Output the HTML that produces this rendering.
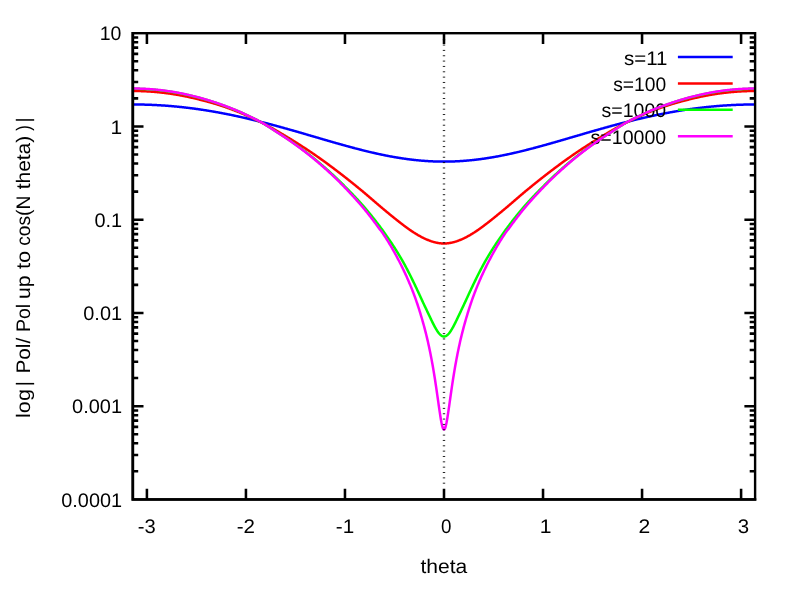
<!DOCTYPE html>
<html><head><meta charset="utf-8"><title>plot</title>
<style>html,body{margin:0;padding:0;background:#fff;}body{width:789px;height:591px;overflow:hidden;font-family:"Liberation Sans",sans-serif;}svg{will-change:transform;}svg text{text-rendering:geometricPrecision;}</style></head>
<body>
<svg width="789" height="591" viewBox="0 0 789 591" style="display:block">
<rect width="789" height="591" fill="#fff"/>
<path d="M146.91,499.4 V488.70 M146.91,33.2 V43.90 M245.94,499.4 V488.70 M245.94,33.2 V43.90 M344.97,499.4 V488.70 M344.97,33.2 V43.90 M444.00,499.4 V488.70 M444.00,33.2 V43.90 M543.03,499.4 V488.70 M543.03,33.2 V43.90 M642.06,499.4 V488.70 M642.06,33.2 V43.90 M741.09,499.4 V488.70 M741.09,33.2 V43.90 M132.8,471.33 H138.20 M755.1,471.33 H749.70 M132.8,454.91 H138.20 M755.1,454.91 H749.70 M132.8,443.26 H138.20 M755.1,443.26 H749.70 M132.8,434.23 H138.20 M755.1,434.23 H749.70 M132.8,426.85 H138.20 M755.1,426.85 H749.70 M132.8,420.60 H138.20 M755.1,420.60 H749.70 M132.8,415.20 H138.20 M755.1,415.20 H749.70 M132.8,410.43 H138.20 M755.1,410.43 H749.70 M132.8,406.16 H143.50 M755.1,406.16 H744.40 M132.8,378.09 H138.20 M755.1,378.09 H749.70 M132.8,361.67 H138.20 M755.1,361.67 H749.70 M132.8,350.02 H138.20 M755.1,350.02 H749.70 M132.8,340.99 H138.20 M755.1,340.99 H749.70 M132.8,333.61 H138.20 M755.1,333.61 H749.70 M132.8,327.36 H138.20 M755.1,327.36 H749.70 M132.8,321.96 H138.20 M755.1,321.96 H749.70 M132.8,317.19 H138.20 M755.1,317.19 H749.70 M132.8,312.92 H143.50 M755.1,312.92 H744.40 M132.8,284.85 H138.20 M755.1,284.85 H749.70 M132.8,268.43 H138.20 M755.1,268.43 H749.70 M132.8,256.78 H138.20 M755.1,256.78 H749.70 M132.8,247.75 H138.20 M755.1,247.75 H749.70 M132.8,240.37 H138.20 M755.1,240.37 H749.70 M132.8,234.12 H138.20 M755.1,234.12 H749.70 M132.8,228.72 H138.20 M755.1,228.72 H749.70 M132.8,223.95 H138.20 M755.1,223.95 H749.70 M132.8,219.68 H143.50 M755.1,219.68 H744.40 M132.8,191.61 H138.20 M755.1,191.61 H749.70 M132.8,175.19 H138.20 M755.1,175.19 H749.70 M132.8,163.54 H138.20 M755.1,163.54 H749.70 M132.8,154.51 H138.20 M755.1,154.51 H749.70 M132.8,147.13 H138.20 M755.1,147.13 H749.70 M132.8,140.88 H138.20 M755.1,140.88 H749.70 M132.8,135.48 H138.20 M755.1,135.48 H749.70 M132.8,130.71 H138.20 M755.1,130.71 H749.70 M132.8,126.44 H143.50 M755.1,126.44 H744.40 M132.8,98.37 H138.20 M755.1,98.37 H749.70 M132.8,81.95 H138.20 M755.1,81.95 H749.70 M132.8,70.30 H138.20 M755.1,70.30 H749.70 M132.8,61.27 H138.20 M755.1,61.27 H749.70 M132.8,53.89 H138.20 M755.1,53.89 H749.70 M132.8,47.64 H138.20 M755.1,47.64 H749.70 M132.8,42.24 H138.20 M755.1,42.24 H749.70 M132.8,37.47 H138.20 M755.1,37.47 H749.70" stroke="#000" stroke-width="2.55" fill="none"/>
<text transform="translate(61.28,506.50) scale(1.0147,1.0)" font-family="Liberation Sans, sans-serif" font-size="19.6" fill="#000">0.0001</text>
<text transform="translate(72.08,413.26) scale(1.0201,1.0)" font-family="Liberation Sans, sans-serif" font-size="19.6" fill="#000">0.001</text>
<text transform="translate(83.28,320.02) scale(1.0180,1.0)" font-family="Liberation Sans, sans-serif" font-size="19.6" fill="#000">0.01</text>
<text transform="translate(94.43,226.78) scale(1.0159,1.0)" font-family="Liberation Sans, sans-serif" font-size="19.6" fill="#000">0.1</text>
<text transform="translate(110.49,133.54) scale(1.0697,1.0)" font-family="Liberation Sans, sans-serif" font-size="19.6" fill="#000">1</text>
<text transform="translate(99.68,40.30) scale(0.9956,1.0)" font-family="Liberation Sans, sans-serif" font-size="19.6" fill="#000">10</text>
<text transform="translate(137.77,532.65) scale(1.0299,1.0)" font-family="Liberation Sans, sans-serif" font-size="19.6" fill="#000">-3</text>
<text transform="translate(236.76,532.65) scale(1.0486,1.0)" font-family="Liberation Sans, sans-serif" font-size="19.6" fill="#000">-2</text>
<text transform="translate(335.75,532.65) scale(1.0549,1.0)" font-family="Liberation Sans, sans-serif" font-size="19.6" fill="#000">-1</text>
<text transform="translate(441.01,532.65) scale(0.9592,1.0)" font-family="Liberation Sans, sans-serif" font-size="19.6" fill="#000">0</text>
<text transform="translate(539.68,532.65) scale(1.0753,1.0)" font-family="Liberation Sans, sans-serif" font-size="19.6" fill="#000">1</text>
<text transform="translate(638.51,532.65) scale(1.0776,1.0)" font-family="Liberation Sans, sans-serif" font-size="19.6" fill="#000">2</text>
<text transform="translate(737.86,532.65) scale(1.0428,1.0)" font-family="Liberation Sans, sans-serif" font-size="19.6" fill="#000">3</text>
<text transform="translate(420.50,572.80) scale(1.0728,1.0)" font-family="Liberation Sans, sans-serif" font-size="19.6" fill="#000">theta</text>
<text transform="translate(29.70,417.95) rotate(-90) scale(1.1036,1.0)" font-family="Liberation Sans, sans-serif" font-size="19.6" fill="#000">log</text>
<text transform="translate(29.70,386.25) rotate(-90) scale(1.0000,1.0)" font-family="Liberation Sans, sans-serif" font-size="19.6" fill="#000">|</text>
<text transform="translate(29.70,373.52) rotate(-90) scale(1.0585,1.0)" font-family="Liberation Sans, sans-serif" font-size="19.6" fill="#000">Pol/</text>
<text transform="translate(29.70,332.12) rotate(-90) scale(0.9959,1.0)" font-family="Liberation Sans, sans-serif" font-size="19.6" fill="#000">Pol</text>
<text transform="translate(29.70,298.93) rotate(-90) scale(1.0818,1.0)" font-family="Liberation Sans, sans-serif" font-size="19.6" fill="#000">up</text>
<text transform="translate(29.70,269.10) rotate(-90) scale(1.1124,1.0)" font-family="Liberation Sans, sans-serif" font-size="19.6" fill="#000">to</text>
<text transform="translate(29.70,245.80) rotate(-90) scale(0.9802,1.0)" font-family="Liberation Sans, sans-serif" font-size="19.6" fill="#000">cos(N</text>
<text transform="translate(29.70,189.30) rotate(-90) scale(1.0671,1.0)" font-family="Liberation Sans, sans-serif" font-size="19.6" fill="#000">theta)</text>
<text transform="translate(29.70,130.80) rotate(-90) scale(0.8345,1.0)" font-family="Liberation Sans, sans-serif" font-size="19.6" fill="#000">)</text>
<text transform="translate(29.70,122.40) rotate(-90) scale(1.0000,1.0)" font-family="Liberation Sans, sans-serif" font-size="19.6" fill="#000">|</text>
<text transform="translate(624.03,64.50) scale(1.0459,1.0)" font-family="Liberation Sans, sans-serif" font-size="19.6" fill="#000">s=11</text>
<path d="M677.9,57.05 H732.7" stroke="#0000ff" stroke-width="2.5" fill="none"/>
<path d="M132.89,104.47 L133.41,104.47 L133.93,104.47 L134.44,104.47 L134.96,104.47 L135.48,104.48 L136.00,104.48 L136.52,104.48 L137.04,104.49 L137.55,104.49 L138.07,104.50 L138.59,104.51 L139.11,104.51 L139.63,104.52 L140.15,104.53 L140.67,104.54 L141.18,104.55 L141.70,104.56 L142.22,104.57 L142.74,104.58 L143.26,104.59 L143.78,104.60 L144.30,104.61 L144.81,104.63 L145.33,104.64 L145.85,104.66 L146.37,104.67 L146.89,104.69 L147.41,104.70 L147.93,104.72 L148.44,104.74 L148.96,104.76 L149.48,104.78 L150.00,104.80 L150.52,104.82 L151.04,104.84 L151.55,104.86 L152.07,104.88 L152.59,104.90 L153.11,104.93 L153.63,104.95 L154.15,104.97 L154.67,105.00 L155.18,105.02 L155.70,105.05 L156.22,105.08 L156.74,105.10 L157.26,105.13 L157.78,105.16 L158.30,105.19 L158.81,105.22 L159.33,105.25 L159.85,105.28 L160.37,105.31 L160.89,105.34 L161.41,105.38 L161.93,105.41 L162.44,105.44 L162.96,105.48 L163.48,105.51 L164.00,105.55 L164.52,105.59 L165.04,105.62 L165.55,105.66 L166.07,105.70 L166.59,105.74 L167.11,105.78 L167.63,105.82 L168.15,105.86 L168.67,105.90 L169.18,105.94 L169.70,105.98 L170.22,106.02 L170.74,106.07 L171.26,106.11 L171.78,106.15 L172.30,106.20 L172.81,106.24 L173.33,106.29 L173.85,106.34 L174.37,106.39 L174.89,106.43 L175.41,106.48 L175.93,106.53 L176.44,106.58 L176.96,106.63 L177.48,106.68 L178.00,106.73 L178.52,106.79 L179.04,106.84 L179.55,106.89 L180.07,106.94 L180.59,107.00 L181.11,107.05 L181.63,107.11 L182.15,107.17 L182.67,107.22 L183.18,107.28 L183.70,107.34 L184.22,107.40 L184.74,107.45 L185.26,107.51 L185.78,107.57 L186.30,107.64 L186.81,107.70 L187.33,107.76 L187.85,107.82 L188.37,107.88 L188.89,107.95 L189.41,108.01 L189.93,108.08 L190.44,108.14 L190.96,108.21 L191.48,108.27 L192.00,108.34 L192.52,108.41 L193.04,108.48 L193.55,108.54 L194.07,108.61 L194.59,108.68 L195.11,108.75 L195.63,108.82 L196.15,108.90 L196.67,108.97 L197.18,109.04 L197.70,109.11 L198.22,109.19 L198.74,109.26 L199.26,109.34 L199.78,109.41 L200.30,109.49 L200.81,109.56 L201.33,109.64 L201.85,109.72 L202.37,109.80 L202.89,109.87 L203.41,109.95 L203.93,110.03 L204.44,110.11 L204.96,110.19 L205.48,110.28 L206.00,110.36 L206.52,110.44 L207.04,110.52 L207.55,110.61 L208.07,110.69 L208.59,110.77 L209.11,110.86 L209.63,110.95 L210.15,111.03 L210.67,111.12 L211.18,111.21 L211.70,111.29 L212.22,111.38 L212.74,111.47 L213.26,111.56 L213.78,111.65 L214.30,111.74 L214.81,111.83 L215.33,111.92 L215.85,112.01 L216.37,112.11 L216.89,112.20 L217.41,112.29 L217.93,112.39 L218.44,112.48 L218.96,112.58 L219.48,112.67 L220.00,112.77 L220.52,112.86 L221.04,112.96 L221.55,113.06 L222.07,113.16 L222.59,113.26 L223.11,113.36 L223.63,113.45 L224.15,113.55 L224.67,113.66 L225.18,113.76 L225.70,113.86 L226.22,113.96 L226.74,114.06 L227.26,114.17 L227.78,114.27 L228.30,114.37 L228.81,114.48 L229.33,114.58 L229.85,114.69 L230.37,114.79 L230.89,114.90 L231.41,115.01 L231.93,115.12 L232.44,115.22 L232.96,115.33 L233.48,115.44 L234.00,115.55 L234.52,115.66 L235.04,115.77 L235.56,115.88 L236.07,115.99 L236.59,116.10 L237.11,116.22 L237.63,116.33 L238.15,116.44 L238.67,116.56 L239.18,116.67 L239.70,116.78 L240.22,116.90 L240.74,117.01 L241.26,117.13 L241.78,117.25 L242.30,117.36 L242.81,117.48 L243.33,117.60 L243.85,117.71 L244.37,117.83 L244.89,117.95 L245.41,118.07 L245.93,118.19 L246.44,118.31 L246.96,118.43 L247.48,118.55 L248.00,118.67 L248.52,118.80 L249.04,118.92 L249.56,119.04 L250.07,119.16 L250.59,119.29 L251.11,119.41 L251.63,119.54 L252.15,119.66 L252.67,119.79 L253.18,119.91 L253.70,120.04 L254.22,120.16 L254.74,120.29 L255.26,120.42 L255.78,120.54 L256.30,120.67 L256.81,120.80 L257.33,120.93 L257.85,121.06 L258.37,121.19 L258.89,121.32 L259.41,121.45 L259.93,121.58 L260.44,121.71 L260.96,121.84 L261.48,121.97 L262.00,122.10 L262.52,122.24 L263.04,122.37 L263.56,122.50 L264.07,122.64 L264.59,122.77 L265.11,122.90 L265.63,123.04 L266.15,123.17 L266.67,123.31 L267.18,123.44 L267.70,123.58 L268.22,123.71 L268.74,123.85 L269.26,123.99 L269.78,124.12 L270.30,124.26 L270.81,124.40 L271.33,124.54 L271.85,124.68 L272.37,124.81 L272.89,124.95 L273.41,125.09 L273.93,125.23 L274.44,125.37 L274.96,125.51 L275.48,125.65 L276.00,125.79 L276.52,125.93 L277.04,126.08 L277.56,126.22 L278.07,126.36 L278.59,126.50 L279.11,126.64 L279.63,126.79 L280.15,126.93 L280.67,127.07 L281.18,127.22 L281.70,127.36 L282.22,127.50 L282.74,127.65 L283.26,127.79 L283.78,127.94 L284.30,128.08 L284.81,128.23 L285.33,128.37 L285.85,128.52 L286.37,128.66 L286.89,128.81 L287.41,128.95 L287.93,129.10 L288.44,129.25 L288.96,129.39 L289.48,129.54 L290.00,129.69 L290.52,129.84 L291.04,129.98 L291.56,130.13 L292.07,130.28 L292.59,130.43 L293.11,130.57 L293.63,130.72 L294.15,130.87 L294.67,131.02 L295.18,131.17 L295.70,131.32 L296.22,131.47 L296.74,131.62 L297.26,131.77 L297.78,131.92 L298.30,132.07 L298.81,132.22 L299.33,132.37 L299.85,132.52 L300.37,132.67 L300.89,132.82 L301.41,132.97 L301.93,133.12 L302.44,133.27 L302.96,133.42 L303.48,133.57 L304.00,133.72 L304.52,133.87 L305.04,134.02 L305.56,134.18 L306.07,134.33 L306.59,134.48 L307.11,134.63 L307.63,134.78 L308.15,134.93 L308.67,135.08 L309.18,135.24 L309.70,135.39 L310.22,135.54 L310.74,135.69 L311.26,135.84 L311.78,135.99 L312.30,136.15 L312.81,136.30 L313.33,136.45 L313.85,136.60 L314.37,136.75 L314.89,136.91 L315.41,137.06 L315.93,137.21 L316.44,137.36 L316.96,137.51 L317.48,137.67 L318.00,137.82 L318.52,137.97 L319.04,138.12 L319.56,138.27 L320.07,138.42 L320.59,138.58 L321.11,138.73 L321.63,138.88 L322.15,139.03 L322.67,139.18 L323.18,139.33 L323.70,139.48 L324.22,139.64 L324.74,139.79 L325.26,139.94 L325.78,140.09 L326.30,140.24 L326.81,140.39 L327.33,140.54 L327.85,140.69 L328.37,140.84 L328.89,140.99 L329.41,141.14 L329.93,141.29 L330.44,141.44 L330.96,141.59 L331.48,141.74 L332.00,141.89 L332.52,142.04 L333.04,142.19 L333.56,142.34 L334.07,142.48 L334.59,142.63 L335.11,142.78 L335.63,142.93 L336.15,143.08 L336.67,143.22 L337.18,143.37 L337.70,143.52 L338.22,143.67 L338.74,143.81 L339.26,143.96 L339.78,144.11 L340.30,144.25 L340.81,144.40 L341.33,144.54 L341.85,144.69 L342.37,144.83 L342.89,144.98 L343.41,145.12 L343.93,145.27 L344.44,145.41 L344.96,145.55 L345.48,145.70 L346.00,145.84 L346.52,145.98 L347.04,146.12 L347.56,146.27 L348.07,146.41 L348.59,146.55 L349.11,146.69 L349.63,146.83 L350.15,146.97 L350.67,147.11 L351.18,147.25 L351.70,147.39 L352.22,147.53 L352.74,147.67 L353.26,147.81 L353.78,147.94 L354.30,148.08 L354.81,148.22 L355.33,148.35 L355.85,148.49 L356.37,148.63 L356.89,148.76 L357.41,148.90 L357.93,149.03 L358.44,149.16 L358.96,149.30 L359.48,149.43 L360.00,149.56 L360.52,149.70 L361.04,149.83 L361.56,149.96 L362.07,150.09 L362.59,150.22 L363.11,150.35 L363.63,150.48 L364.15,150.61 L364.67,150.74 L365.18,150.87 L365.70,150.99 L366.22,151.12 L366.74,151.25 L367.26,151.37 L367.78,151.50 L368.30,151.62 L368.81,151.75 L369.33,151.87 L369.85,151.99 L370.37,152.12 L370.89,152.24 L371.41,152.36 L371.93,152.48 L372.44,152.60 L372.96,152.72 L373.48,152.84 L374.00,152.96 L374.52,153.08 L375.04,153.19 L375.56,153.31 L376.07,153.43 L376.59,153.54 L377.11,153.66 L377.63,153.77 L378.15,153.88 L378.67,154.00 L379.19,154.11 L379.70,154.22 L380.22,154.33 L380.74,154.44 L381.26,154.55 L381.78,154.66 L382.30,154.77 L382.81,154.88 L383.33,154.98 L383.85,155.09 L384.37,155.19 L384.89,155.30 L385.41,155.40 L385.93,155.51 L386.44,155.61 L386.96,155.71 L387.48,155.81 L388.00,155.91 L388.52,156.01 L389.04,156.11 L389.56,156.21 L390.07,156.31 L390.59,156.40 L391.11,156.50 L391.63,156.59 L392.15,156.69 L392.67,156.78 L393.19,156.88 L393.70,156.97 L394.22,157.06 L394.74,157.15 L395.26,157.24 L395.78,157.33 L396.30,157.42 L396.81,157.50 L397.33,157.59 L397.85,157.68 L398.37,157.76 L398.89,157.84 L399.41,157.93 L399.93,158.01 L400.44,158.09 L400.96,158.17 L401.48,158.25 L402.00,158.33 L402.52,158.41 L403.04,158.49 L403.56,158.56 L404.07,158.64 L404.59,158.71 L405.11,158.79 L405.63,158.86 L406.15,158.93 L406.67,159.00 L407.19,159.07 L407.70,159.14 L408.22,159.21 L408.74,159.28 L409.26,159.34 L409.78,159.41 L410.30,159.47 L410.81,159.54 L411.33,159.60 L411.85,159.66 L412.37,159.72 L412.89,159.78 L413.41,159.84 L413.93,159.90 L414.44,159.96 L414.96,160.02 L415.48,160.07 L416.00,160.13 L416.52,160.18 L417.04,160.23 L417.56,160.28 L418.07,160.33 L418.59,160.38 L419.11,160.43 L419.63,160.48 L420.15,160.53 L420.67,160.57 L421.19,160.62 L421.70,160.66 L422.22,160.70 L422.74,160.75 L423.26,160.79 L423.78,160.83 L424.30,160.87 L424.81,160.90 L425.33,160.94 L425.85,160.98 L426.37,161.01 L426.89,161.05 L427.41,161.08 L427.93,161.11 L428.44,161.14 L428.96,161.17 L429.48,161.20 L430.00,161.23 L430.52,161.26 L431.04,161.28 L431.56,161.31 L432.07,161.33 L432.59,161.36 L433.11,161.38 L433.63,161.40 L434.15,161.42 L434.67,161.44 L435.19,161.46 L435.70,161.47 L436.22,161.49 L436.74,161.50 L437.26,161.52 L437.78,161.53 L438.30,161.54 L438.81,161.55 L439.33,161.56 L439.85,161.57 L440.37,161.58 L440.89,161.59 L441.41,161.59 L441.93,161.60 L442.44,161.60 L442.96,161.60 L443.48,161.60 L444.00,161.60 L444.52,161.60 L445.04,161.60 L445.56,161.60 L446.07,161.60 L446.59,161.59 L447.11,161.59 L447.63,161.58 L448.15,161.57 L448.67,161.56 L449.19,161.55 L449.70,161.54 L450.22,161.53 L450.74,161.52 L451.26,161.50 L451.78,161.49 L452.30,161.47 L452.81,161.46 L453.33,161.44 L453.85,161.42 L454.37,161.40 L454.89,161.38 L455.41,161.36 L455.93,161.33 L456.44,161.31 L456.96,161.28 L457.48,161.26 L458.00,161.23 L458.52,161.20 L459.04,161.17 L459.56,161.14 L460.07,161.11 L460.59,161.08 L461.11,161.05 L461.63,161.01 L462.15,160.98 L462.67,160.94 L463.19,160.90 L463.70,160.87 L464.22,160.83 L464.74,160.79 L465.26,160.75 L465.78,160.70 L466.30,160.66 L466.81,160.62 L467.33,160.57 L467.85,160.53 L468.37,160.48 L468.89,160.43 L469.41,160.38 L469.93,160.33 L470.44,160.28 L470.96,160.23 L471.48,160.18 L472.00,160.13 L472.52,160.07 L473.04,160.02 L473.56,159.96 L474.07,159.90 L474.59,159.84 L475.11,159.78 L475.63,159.72 L476.15,159.66 L476.67,159.60 L477.19,159.54 L477.70,159.47 L478.22,159.41 L478.74,159.34 L479.26,159.28 L479.78,159.21 L480.30,159.14 L480.81,159.07 L481.33,159.00 L481.85,158.93 L482.37,158.86 L482.89,158.79 L483.41,158.71 L483.93,158.64 L484.44,158.56 L484.96,158.49 L485.48,158.41 L486.00,158.33 L486.52,158.25 L487.04,158.17 L487.56,158.09 L488.07,158.01 L488.59,157.93 L489.11,157.84 L489.63,157.76 L490.15,157.68 L490.67,157.59 L491.19,157.50 L491.70,157.42 L492.22,157.33 L492.74,157.24 L493.26,157.15 L493.78,157.06 L494.30,156.97 L494.81,156.88 L495.33,156.78 L495.85,156.69 L496.37,156.59 L496.89,156.50 L497.41,156.40 L497.93,156.31 L498.44,156.21 L498.96,156.11 L499.48,156.01 L500.00,155.91 L500.52,155.81 L501.04,155.71 L501.56,155.61 L502.07,155.51 L502.59,155.40 L503.11,155.30 L503.63,155.19 L504.15,155.09 L504.67,154.98 L505.19,154.88 L505.70,154.77 L506.22,154.66 L506.74,154.55 L507.26,154.44 L507.78,154.33 L508.30,154.22 L508.81,154.11 L509.33,154.00 L509.85,153.88 L510.37,153.77 L510.89,153.66 L511.41,153.54 L511.93,153.43 L512.44,153.31 L512.96,153.19 L513.48,153.08 L514.00,152.96 L514.52,152.84 L515.04,152.72 L515.56,152.60 L516.07,152.48 L516.59,152.36 L517.11,152.24 L517.63,152.12 L518.15,151.99 L518.67,151.87 L519.19,151.75 L519.70,151.62 L520.22,151.50 L520.74,151.37 L521.26,151.25 L521.78,151.12 L522.30,150.99 L522.82,150.87 L523.33,150.74 L523.85,150.61 L524.37,150.48 L524.89,150.35 L525.41,150.22 L525.93,150.09 L526.44,149.96 L526.96,149.83 L527.48,149.70 L528.00,149.56 L528.52,149.43 L529.04,149.30 L529.56,149.16 L530.07,149.03 L530.59,148.90 L531.11,148.76 L531.63,148.63 L532.15,148.49 L532.67,148.35 L533.19,148.22 L533.70,148.08 L534.22,147.94 L534.74,147.81 L535.26,147.67 L535.78,147.53 L536.30,147.39 L536.82,147.25 L537.33,147.11 L537.85,146.97 L538.37,146.83 L538.89,146.69 L539.41,146.55 L539.93,146.41 L540.44,146.27 L540.96,146.12 L541.48,145.98 L542.00,145.84 L542.52,145.70 L543.04,145.55 L543.56,145.41 L544.07,145.27 L544.59,145.12 L545.11,144.98 L545.63,144.83 L546.15,144.69 L546.67,144.54 L547.19,144.40 L547.70,144.25 L548.22,144.11 L548.74,143.96 L549.26,143.81 L549.78,143.67 L550.30,143.52 L550.82,143.37 L551.33,143.22 L551.85,143.08 L552.37,142.93 L552.89,142.78 L553.41,142.63 L553.93,142.48 L554.44,142.34 L554.96,142.19 L555.48,142.04 L556.00,141.89 L556.52,141.74 L557.04,141.59 L557.56,141.44 L558.07,141.29 L558.59,141.14 L559.11,140.99 L559.63,140.84 L560.15,140.69 L560.67,140.54 L561.19,140.39 L561.70,140.24 L562.22,140.09 L562.74,139.94 L563.26,139.79 L563.78,139.64 L564.30,139.48 L564.82,139.33 L565.33,139.18 L565.85,139.03 L566.37,138.88 L566.89,138.73 L567.41,138.58 L567.93,138.42 L568.44,138.27 L568.96,138.12 L569.48,137.97 L570.00,137.82 L570.52,137.67 L571.04,137.51 L571.56,137.36 L572.07,137.21 L572.59,137.06 L573.11,136.91 L573.63,136.75 L574.15,136.60 L574.67,136.45 L575.19,136.30 L575.70,136.15 L576.22,135.99 L576.74,135.84 L577.26,135.69 L577.78,135.54 L578.30,135.39 L578.82,135.24 L579.33,135.08 L579.85,134.93 L580.37,134.78 L580.89,134.63 L581.41,134.48 L581.93,134.33 L582.44,134.18 L582.96,134.02 L583.48,133.87 L584.00,133.72 L584.52,133.57 L585.04,133.42 L585.56,133.27 L586.07,133.12 L586.59,132.97 L587.11,132.82 L587.63,132.67 L588.15,132.52 L588.67,132.37 L589.19,132.22 L589.70,132.07 L590.22,131.92 L590.74,131.77 L591.26,131.62 L591.78,131.47 L592.30,131.32 L592.82,131.17 L593.33,131.02 L593.85,130.87 L594.37,130.72 L594.89,130.57 L595.41,130.43 L595.93,130.28 L596.44,130.13 L596.96,129.98 L597.48,129.84 L598.00,129.69 L598.52,129.54 L599.04,129.39 L599.56,129.25 L600.07,129.10 L600.59,128.95 L601.11,128.81 L601.63,128.66 L602.15,128.52 L602.67,128.37 L603.19,128.23 L603.70,128.08 L604.22,127.94 L604.74,127.79 L605.26,127.65 L605.78,127.50 L606.30,127.36 L606.82,127.22 L607.33,127.07 L607.85,126.93 L608.37,126.79 L608.89,126.64 L609.41,126.50 L609.93,126.36 L610.44,126.22 L610.96,126.08 L611.48,125.93 L612.00,125.79 L612.52,125.65 L613.04,125.51 L613.56,125.37 L614.07,125.23 L614.59,125.09 L615.11,124.95 L615.63,124.81 L616.15,124.68 L616.67,124.54 L617.19,124.40 L617.70,124.26 L618.22,124.12 L618.74,123.99 L619.26,123.85 L619.78,123.71 L620.30,123.58 L620.82,123.44 L621.33,123.31 L621.85,123.17 L622.37,123.04 L622.89,122.90 L623.41,122.77 L623.93,122.64 L624.44,122.50 L624.96,122.37 L625.48,122.24 L626.00,122.10 L626.52,121.97 L627.04,121.84 L627.56,121.71 L628.07,121.58 L628.59,121.45 L629.11,121.32 L629.63,121.19 L630.15,121.06 L630.67,120.93 L631.19,120.80 L631.70,120.67 L632.22,120.54 L632.74,120.42 L633.26,120.29 L633.78,120.16 L634.30,120.04 L634.82,119.91 L635.33,119.79 L635.85,119.66 L636.37,119.54 L636.89,119.41 L637.41,119.29 L637.93,119.16 L638.44,119.04 L638.96,118.92 L639.48,118.80 L640.00,118.67 L640.52,118.55 L641.04,118.43 L641.56,118.31 L642.07,118.19 L642.59,118.07 L643.11,117.95 L643.63,117.83 L644.15,117.71 L644.67,117.60 L645.19,117.48 L645.70,117.36 L646.22,117.25 L646.74,117.13 L647.26,117.01 L647.78,116.90 L648.30,116.78 L648.82,116.67 L649.33,116.56 L649.85,116.44 L650.37,116.33 L650.89,116.22 L651.41,116.10 L651.93,115.99 L652.44,115.88 L652.96,115.77 L653.48,115.66 L654.00,115.55 L654.52,115.44 L655.04,115.33 L655.56,115.22 L656.07,115.12 L656.59,115.01 L657.11,114.90 L657.63,114.79 L658.15,114.69 L658.67,114.58 L659.19,114.48 L659.70,114.37 L660.22,114.27 L660.74,114.17 L661.26,114.06 L661.78,113.96 L662.30,113.86 L662.82,113.76 L663.33,113.66 L663.85,113.55 L664.37,113.45 L664.89,113.36 L665.41,113.26 L665.93,113.16 L666.45,113.06 L666.96,112.96 L667.48,112.86 L668.00,112.77 L668.52,112.67 L669.04,112.58 L669.56,112.48 L670.07,112.39 L670.59,112.29 L671.11,112.20 L671.63,112.11 L672.15,112.01 L672.67,111.92 L673.19,111.83 L673.70,111.74 L674.22,111.65 L674.74,111.56 L675.26,111.47 L675.78,111.38 L676.30,111.29 L676.82,111.21 L677.33,111.12 L677.85,111.03 L678.37,110.95 L678.89,110.86 L679.41,110.77 L679.93,110.69 L680.45,110.61 L680.96,110.52 L681.48,110.44 L682.00,110.36 L682.52,110.28 L683.04,110.19 L683.56,110.11 L684.07,110.03 L684.59,109.95 L685.11,109.87 L685.63,109.80 L686.15,109.72 L686.67,109.64 L687.19,109.56 L687.70,109.49 L688.22,109.41 L688.74,109.34 L689.26,109.26 L689.78,109.19 L690.30,109.11 L690.82,109.04 L691.33,108.97 L691.85,108.90 L692.37,108.82 L692.89,108.75 L693.41,108.68 L693.93,108.61 L694.45,108.54 L694.96,108.48 L695.48,108.41 L696.00,108.34 L696.52,108.27 L697.04,108.21 L697.56,108.14 L698.07,108.08 L698.59,108.01 L699.11,107.95 L699.63,107.88 L700.15,107.82 L700.67,107.76 L701.19,107.70 L701.70,107.64 L702.22,107.57 L702.74,107.51 L703.26,107.45 L703.78,107.40 L704.30,107.34 L704.82,107.28 L705.33,107.22 L705.85,107.17 L706.37,107.11 L706.89,107.05 L707.41,107.00 L707.93,106.94 L708.45,106.89 L708.96,106.84 L709.48,106.79 L710.00,106.73 L710.52,106.68 L711.04,106.63 L711.56,106.58 L712.07,106.53 L712.59,106.48 L713.11,106.43 L713.63,106.39 L714.15,106.34 L714.67,106.29 L715.19,106.24 L715.70,106.20 L716.22,106.15 L716.74,106.11 L717.26,106.07 L717.78,106.02 L718.30,105.98 L718.82,105.94 L719.33,105.90 L719.85,105.86 L720.37,105.82 L720.89,105.78 L721.41,105.74 L721.93,105.70 L722.45,105.66 L722.96,105.62 L723.48,105.59 L724.00,105.55 L724.52,105.51 L725.04,105.48 L725.56,105.44 L726.07,105.41 L726.59,105.38 L727.11,105.34 L727.63,105.31 L728.15,105.28 L728.67,105.25 L729.19,105.22 L729.70,105.19 L730.22,105.16 L730.74,105.13 L731.26,105.10 L731.78,105.08 L732.30,105.05 L732.82,105.02 L733.33,105.00 L733.85,104.97 L734.37,104.95 L734.89,104.93 L735.41,104.90 L735.93,104.88 L736.45,104.86 L736.96,104.84 L737.48,104.82 L738.00,104.80 L738.52,104.78 L739.04,104.76 L739.56,104.74 L740.07,104.72 L740.59,104.70 L741.11,104.69 L741.63,104.67 L742.15,104.66 L742.67,104.64 L743.19,104.63 L743.70,104.61 L744.22,104.60 L744.74,104.59 L745.26,104.58 L745.78,104.57 L746.30,104.56 L746.82,104.55 L747.33,104.54 L747.85,104.53 L748.37,104.52 L748.89,104.51 L749.41,104.51 L749.93,104.50 L750.45,104.49 L750.96,104.49 L751.48,104.48 L752.00,104.48 L752.52,104.48 L753.04,104.47 L753.56,104.47 L754.07,104.47 L754.59,104.47 L755.11,104.47" stroke="#0000ff" stroke-width="2.5" fill="none" stroke-linejoin="round" stroke-linecap="butt"/>
<text transform="translate(613.20,90.90) scale(0.9830,1.0)" font-family="Liberation Sans, sans-serif" font-size="19.6" fill="#000">s=100</text>
<path d="M677.9,83.45 H732.7" stroke="#ff0000" stroke-width="2.5" fill="none"/>
<path d="M132.89,91.00 L133.41,91.00 L133.93,91.00 L134.44,91.00 L134.96,91.01 L135.48,91.01 L136.00,91.02 L136.52,91.02 L137.04,91.03 L137.55,91.04 L138.07,91.05 L138.59,91.06 L139.11,91.07 L139.63,91.09 L140.15,91.10 L140.67,91.12 L141.18,91.13 L141.70,91.15 L142.22,91.17 L142.74,91.19 L143.26,91.21 L143.78,91.23 L144.30,91.25 L144.81,91.27 L145.33,91.30 L145.85,91.32 L146.37,91.35 L146.89,91.38 L147.41,91.41 L147.93,91.44 L148.44,91.47 L148.96,91.50 L149.48,91.53 L150.00,91.57 L150.52,91.60 L151.04,91.64 L151.55,91.67 L152.07,91.71 L152.59,91.75 L153.11,91.79 L153.63,91.83 L154.15,91.88 L154.67,91.92 L155.18,91.96 L155.70,92.01 L156.22,92.06 L156.74,92.10 L157.26,92.15 L157.78,92.20 L158.30,92.25 L158.81,92.30 L159.33,92.36 L159.85,92.41 L160.37,92.46 L160.89,92.52 L161.41,92.58 L161.93,92.64 L162.44,92.69 L162.96,92.75 L163.48,92.82 L164.00,92.88 L164.52,92.94 L165.04,93.00 L165.55,93.07 L166.07,93.14 L166.59,93.20 L167.11,93.27 L167.63,93.34 L168.15,93.41 L168.67,93.48 L169.18,93.56 L169.70,93.63 L170.22,93.70 L170.74,93.78 L171.26,93.86 L171.78,93.93 L172.30,94.01 L172.81,94.09 L173.33,94.17 L173.85,94.26 L174.37,94.34 L174.89,94.42 L175.41,94.51 L175.93,94.59 L176.44,94.68 L176.96,94.77 L177.48,94.86 L178.00,94.95 L178.52,95.04 L179.04,95.13 L179.55,95.23 L180.07,95.32 L180.59,95.42 L181.11,95.51 L181.63,95.61 L182.15,95.71 L182.67,95.81 L183.18,95.91 L183.70,96.01 L184.22,96.11 L184.74,96.22 L185.26,96.32 L185.78,96.43 L186.30,96.54 L186.81,96.64 L187.33,96.75 L187.85,96.86 L188.37,96.97 L188.89,97.09 L189.41,97.20 L189.93,97.31 L190.44,97.43 L190.96,97.55 L191.48,97.66 L192.00,97.78 L192.52,97.90 L193.04,98.02 L193.55,98.14 L194.07,98.27 L194.59,98.39 L195.11,98.51 L195.63,98.64 L196.15,98.77 L196.67,98.89 L197.19,99.02 L197.70,99.15 L198.22,99.28 L198.74,99.41 L199.26,99.54 L199.78,99.67 L200.30,99.80 L200.82,99.93 L201.34,100.06 L201.86,100.19 L202.38,100.32 L202.90,100.45 L203.42,100.59 L203.94,100.72 L204.47,100.86 L204.99,100.99 L205.51,101.13 L206.03,101.27 L206.55,101.41 L207.07,101.54 L207.59,101.68 L208.12,101.83 L208.64,101.97 L209.16,102.11 L209.68,102.25 L210.20,102.40 L210.73,102.54 L211.25,102.69 L211.77,102.84 L212.29,102.99 L212.81,103.14 L213.34,103.29 L213.86,103.44 L214.38,103.59 L214.90,103.75 L215.42,103.90 L215.95,104.06 L216.47,104.22 L216.99,104.38 L217.51,104.54 L218.03,104.70 L218.56,104.87 L219.08,105.03 L219.60,105.20 L220.12,105.37 L220.64,105.54 L221.16,105.71 L221.68,105.88 L222.20,106.05 L222.73,106.23 L223.25,106.41 L223.77,106.58 L224.29,106.76 L224.81,106.94 L225.33,107.12 L225.85,107.31 L226.37,107.49 L226.89,107.67 L227.41,107.86 L227.93,108.04 L228.45,108.23 L228.98,108.42 L229.50,108.61 L230.02,108.80 L230.54,108.99 L231.06,109.18 L231.58,109.38 L232.10,109.57 L232.62,109.77 L233.14,109.96 L233.66,110.16 L234.18,110.36 L234.70,110.56 L235.22,110.76 L235.75,110.97 L236.27,111.17 L236.79,111.38 L237.31,111.58 L237.83,111.79 L238.35,112.00 L238.87,112.21 L239.39,112.42 L239.91,112.63 L240.43,112.84 L240.95,113.06 L241.47,113.27 L241.99,113.49 L242.51,113.71 L243.03,113.93 L243.55,114.15 L244.07,114.37 L244.59,114.60 L245.11,114.82 L245.63,115.05 L246.15,115.27 L246.66,115.50 L247.18,115.73 L247.70,115.96 L248.22,116.19 L248.74,116.43 L249.26,116.66 L249.78,116.90 L250.30,117.13 L250.81,117.37 L251.33,117.61 L251.85,117.85 L252.37,118.09 L252.89,118.34 L253.40,118.58 L253.92,118.83 L254.44,119.07 L254.96,119.32 L255.47,119.57 L255.99,119.82 L256.51,120.07 L257.03,120.32 L257.54,120.58 L258.06,120.83 L258.58,121.09 L259.09,121.34 L259.61,121.60 L260.13,121.86 L260.65,122.12 L261.16,122.38 L261.68,122.64 L262.20,122.91 L262.71,123.17 L263.23,123.44 L263.75,123.70 L264.26,123.97 L264.78,124.24 L265.29,124.51 L265.81,124.78 L266.33,125.05 L266.84,125.33 L267.36,125.60 L267.88,125.87 L268.39,126.15 L268.91,126.43 L269.43,126.70 L269.94,126.98 L270.46,127.26 L270.97,127.54 L271.49,127.83 L272.00,128.11 L272.52,128.40 L273.03,128.69 L273.55,128.98 L274.06,129.27 L274.58,129.56 L275.09,129.85 L275.60,130.15 L276.12,130.44 L276.63,130.74 L277.14,131.04 L277.66,131.34 L278.17,131.64 L278.68,131.94 L279.19,132.24 L279.71,132.54 L280.22,132.85 L280.73,133.15 L281.24,133.46 L281.76,133.77 L282.27,134.07 L282.78,134.38 L283.30,134.69 L283.81,135.00 L284.32,135.31 L284.84,135.62 L285.35,135.93 L285.87,136.24 L286.38,136.55 L286.90,136.86 L287.41,137.18 L287.93,137.49 L288.45,137.80 L288.96,138.11 L289.48,138.43 L290.00,138.74 L290.52,139.05 L291.04,139.37 L291.56,139.68 L292.07,140.00 L292.59,140.31 L293.11,140.63 L293.63,140.95 L294.15,141.27 L294.67,141.59 L295.18,141.92 L295.70,142.24 L296.22,142.56 L296.74,142.89 L297.26,143.21 L297.78,143.54 L298.30,143.87 L298.81,144.20 L299.33,144.53 L299.85,144.86 L300.37,145.19 L300.89,145.52 L301.41,145.86 L301.93,146.19 L302.44,146.53 L302.96,146.86 L303.48,147.20 L304.00,147.54 L304.52,147.88 L305.04,148.22 L305.56,148.56 L306.07,148.90 L306.59,149.25 L307.11,149.59 L307.63,149.94 L308.15,150.28 L308.67,150.63 L309.18,150.98 L309.70,151.33 L310.22,151.68 L310.74,152.03 L311.26,152.38 L311.78,152.73 L312.30,153.09 L312.81,153.44 L313.33,153.80 L313.85,154.15 L314.37,154.51 L314.89,154.87 L315.41,155.23 L315.93,155.59 L316.44,155.95 L316.96,156.31 L317.48,156.67 L318.00,157.04 L318.52,157.40 L319.04,157.77 L319.56,158.13 L320.07,158.50 L320.59,158.87 L321.11,159.24 L321.63,159.61 L322.15,159.98 L322.67,160.35 L323.18,160.72 L323.70,161.10 L324.22,161.47 L324.74,161.85 L325.26,162.22 L325.78,162.60 L326.30,162.98 L326.81,163.36 L327.33,163.74 L327.85,164.12 L328.37,164.50 L328.89,164.88 L329.41,165.26 L329.93,165.65 L330.44,166.03 L330.96,166.42 L331.48,166.80 L332.00,167.19 L332.52,167.58 L333.04,167.97 L333.56,168.36 L334.07,168.75 L334.59,169.14 L335.11,169.53 L335.63,169.92 L336.15,170.32 L336.67,170.71 L337.18,171.11 L337.70,171.50 L338.22,171.90 L338.74,172.30 L339.26,172.70 L339.78,173.10 L340.30,173.50 L340.81,173.90 L341.33,174.30 L341.85,174.70 L342.37,175.10 L342.89,175.51 L343.41,175.91 L343.93,176.32 L344.44,176.72 L344.96,177.13 L345.48,177.54 L346.00,177.94 L346.52,178.35 L347.04,178.76 L347.56,179.17 L348.07,179.58 L348.59,179.99 L349.11,180.40 L349.63,180.82 L350.15,181.23 L350.67,181.64 L351.18,182.06 L351.70,182.47 L352.22,182.89 L352.74,183.31 L353.26,183.72 L353.78,184.14 L354.30,184.56 L354.81,184.98 L355.33,185.40 L355.85,185.82 L356.37,186.24 L356.89,186.66 L357.41,187.08 L357.93,187.50 L358.44,187.92 L358.96,188.35 L359.48,188.77 L360.00,189.20 L360.52,189.62 L361.04,190.05 L361.55,190.47 L362.07,190.90 L362.59,191.33 L363.10,191.76 L363.62,192.19 L364.13,192.63 L364.64,193.06 L365.16,193.49 L365.67,193.93 L366.18,194.36 L366.70,194.80 L367.21,195.24 L367.72,195.67 L368.23,196.11 L368.75,196.55 L369.26,196.99 L369.77,197.43 L370.28,197.87 L370.79,198.31 L371.30,198.75 L371.81,199.19 L372.33,199.63 L372.84,200.07 L373.35,200.51 L373.86,200.95 L374.37,201.40 L374.88,201.84 L375.39,202.28 L375.91,202.72 L376.42,203.16 L376.93,203.60 L377.44,204.04 L377.96,204.48 L378.47,204.92 L378.98,205.36 L379.50,205.79 L380.01,206.23 L380.53,206.67 L381.04,207.10 L381.56,207.54 L382.08,207.97 L382.59,208.41 L383.11,208.84 L383.63,209.27 L384.15,209.70 L384.67,210.13 L385.18,210.56 L385.70,210.99 L386.22,211.42 L386.74,211.85 L387.26,212.28 L387.78,212.71 L388.30,213.13 L388.81,213.56 L389.33,213.99 L389.85,214.41 L390.37,214.84 L390.89,215.26 L391.41,215.68 L391.93,216.11 L392.45,216.53 L392.96,216.95 L393.48,217.37 L394.00,217.79 L394.52,218.21 L395.04,218.62 L395.56,219.04 L396.08,219.45 L396.60,219.87 L397.12,220.28 L397.63,220.69 L398.15,221.10 L398.67,221.51 L399.19,221.92 L399.71,222.32 L400.23,222.73 L400.75,223.13 L401.27,223.53 L401.79,223.93 L402.31,224.33 L402.82,224.72 L403.34,225.12 L403.86,225.51 L404.38,225.90 L404.90,226.29 L405.42,226.68 L405.94,227.06 L406.46,227.44 L406.98,227.82 L407.50,228.20 L408.02,228.57 L408.54,228.95 L409.06,229.32 L409.58,229.68 L410.10,230.04 L410.62,230.40 L411.15,230.76 L411.67,231.11 L412.19,231.46 L412.71,231.80 L413.24,232.14 L413.76,232.48 L414.29,232.81 L414.81,233.14 L415.34,233.47 L415.86,233.79 L416.39,234.11 L416.91,234.42 L417.44,234.73 L417.96,235.04 L418.49,235.34 L419.01,235.64 L419.54,235.93 L420.06,236.22 L420.59,236.50 L421.11,236.78 L421.64,237.06 L422.16,237.33 L422.69,237.59 L423.21,237.85 L423.73,238.11 L424.26,238.36 L424.78,238.61 L425.30,238.85 L425.83,239.08 L426.35,239.32 L426.87,239.54 L427.39,239.76 L427.92,239.98 L428.44,240.19 L428.96,240.39 L429.48,240.59 L430.00,240.79 L430.52,240.97 L431.04,241.16 L431.56,241.33 L432.07,241.51 L432.59,241.67 L433.11,241.83 L433.63,241.98 L434.15,242.13 L434.67,242.26 L435.19,242.40 L435.70,242.52 L436.22,242.64 L436.74,242.75 L437.26,242.85 L437.78,242.94 L438.30,243.03 L438.81,243.11 L439.33,243.18 L439.85,243.25 L440.37,243.31 L440.89,243.36 L441.41,243.40 L441.93,243.43 L442.44,243.46 L442.96,243.48 L443.48,243.49 L444.00,243.50 L444.52,243.49 L445.04,243.48 L445.56,243.46 L446.07,243.43 L446.59,243.40 L447.11,243.36 L447.63,243.31 L448.15,243.25 L448.67,243.18 L449.19,243.11 L449.70,243.03 L450.22,242.94 L450.74,242.85 L451.26,242.75 L451.78,242.64 L452.30,242.52 L452.81,242.40 L453.33,242.26 L453.85,242.13 L454.37,241.98 L454.89,241.83 L455.41,241.67 L455.93,241.51 L456.44,241.33 L456.96,241.16 L457.48,240.97 L458.00,240.79 L458.52,240.59 L459.04,240.39 L459.56,240.19 L460.08,239.98 L460.61,239.76 L461.13,239.54 L461.65,239.32 L462.17,239.08 L462.70,238.85 L463.22,238.61 L463.74,238.36 L464.27,238.11 L464.79,237.85 L465.31,237.59 L465.84,237.33 L466.36,237.06 L466.89,236.78 L467.41,236.50 L467.94,236.22 L468.46,235.93 L468.99,235.64 L469.51,235.34 L470.04,235.04 L470.56,234.73 L471.09,234.42 L471.61,234.11 L472.14,233.79 L472.66,233.47 L473.19,233.14 L473.71,232.81 L474.24,232.48 L474.76,232.14 L475.29,231.80 L475.81,231.46 L476.33,231.11 L476.85,230.76 L477.38,230.40 L477.90,230.04 L478.42,229.68 L478.94,229.32 L479.46,228.95 L479.98,228.57 L480.50,228.20 L481.02,227.82 L481.54,227.44 L482.06,227.06 L482.58,226.68 L483.10,226.29 L483.62,225.90 L484.14,225.51 L484.66,225.12 L485.18,224.72 L485.69,224.33 L486.21,223.93 L486.73,223.53 L487.25,223.13 L487.77,222.73 L488.29,222.32 L488.81,221.92 L489.33,221.51 L489.85,221.10 L490.37,220.69 L490.88,220.28 L491.40,219.87 L491.92,219.45 L492.44,219.04 L492.96,218.62 L493.48,218.21 L494.00,217.79 L494.52,217.37 L495.04,216.95 L495.55,216.53 L496.07,216.11 L496.59,215.68 L497.11,215.26 L497.63,214.84 L498.15,214.41 L498.67,213.99 L499.19,213.56 L499.70,213.13 L500.22,212.71 L500.74,212.28 L501.26,211.85 L501.78,211.42 L502.30,210.99 L502.82,210.56 L503.33,210.13 L503.85,209.70 L504.37,209.27 L504.89,208.84 L505.41,208.41 L505.92,207.97 L506.44,207.54 L506.96,207.10 L507.47,206.67 L507.99,206.23 L508.50,205.79 L509.02,205.36 L509.53,204.92 L510.04,204.48 L510.56,204.04 L511.07,203.60 L511.58,203.16 L512.09,202.72 L512.61,202.28 L513.12,201.84 L513.63,201.40 L514.14,200.95 L514.65,200.51 L515.16,200.07 L515.67,199.63 L516.19,199.19 L516.70,198.75 L517.21,198.31 L517.72,197.87 L518.23,197.43 L518.74,196.99 L519.25,196.55 L519.77,196.11 L520.28,195.67 L520.79,195.24 L521.30,194.80 L521.82,194.36 L522.33,193.93 L522.84,193.49 L523.36,193.06 L523.87,192.63 L524.38,192.19 L524.90,191.76 L525.41,191.33 L525.93,190.90 L526.45,190.47 L526.96,190.05 L527.48,189.62 L528.00,189.20 L528.52,188.77 L529.04,188.35 L529.56,187.92 L530.07,187.50 L530.59,187.08 L531.11,186.66 L531.63,186.24 L532.15,185.82 L532.67,185.40 L533.19,184.98 L533.70,184.56 L534.22,184.14 L534.74,183.72 L535.26,183.31 L535.78,182.89 L536.30,182.47 L536.82,182.06 L537.33,181.64 L537.85,181.23 L538.37,180.82 L538.89,180.40 L539.41,179.99 L539.93,179.58 L540.44,179.17 L540.96,178.76 L541.48,178.35 L542.00,177.94 L542.52,177.54 L543.04,177.13 L543.56,176.72 L544.07,176.32 L544.59,175.91 L545.11,175.51 L545.63,175.10 L546.15,174.70 L546.67,174.30 L547.19,173.90 L547.70,173.50 L548.22,173.10 L548.74,172.70 L549.26,172.30 L549.78,171.90 L550.30,171.50 L550.82,171.11 L551.33,170.71 L551.85,170.32 L552.37,169.92 L552.89,169.53 L553.41,169.14 L553.93,168.75 L554.44,168.36 L554.96,167.97 L555.48,167.58 L556.00,167.19 L556.52,166.80 L557.04,166.42 L557.56,166.03 L558.07,165.65 L558.59,165.26 L559.11,164.88 L559.63,164.50 L560.15,164.12 L560.67,163.74 L561.19,163.36 L561.70,162.98 L562.22,162.60 L562.74,162.22 L563.26,161.85 L563.78,161.47 L564.30,161.10 L564.82,160.72 L565.33,160.35 L565.85,159.98 L566.37,159.61 L566.89,159.24 L567.41,158.87 L567.93,158.50 L568.44,158.13 L568.96,157.77 L569.48,157.40 L570.00,157.04 L570.52,156.67 L571.04,156.31 L571.56,155.95 L572.07,155.59 L572.59,155.23 L573.11,154.87 L573.63,154.51 L574.15,154.15 L574.67,153.80 L575.19,153.44 L575.70,153.09 L576.22,152.73 L576.74,152.38 L577.26,152.03 L577.78,151.68 L578.30,151.33 L578.82,150.98 L579.33,150.63 L579.85,150.28 L580.37,149.94 L580.89,149.59 L581.41,149.25 L581.93,148.90 L582.44,148.56 L582.96,148.22 L583.48,147.88 L584.00,147.54 L584.52,147.20 L585.04,146.86 L585.56,146.53 L586.07,146.19 L586.59,145.86 L587.11,145.52 L587.63,145.19 L588.15,144.86 L588.67,144.53 L589.19,144.20 L589.70,143.87 L590.22,143.54 L590.74,143.21 L591.26,142.89 L591.78,142.56 L592.30,142.24 L592.82,141.92 L593.33,141.59 L593.85,141.27 L594.37,140.95 L594.89,140.63 L595.41,140.31 L595.93,140.00 L596.44,139.68 L596.96,139.37 L597.48,139.05 L598.00,138.74 L598.52,138.43 L599.04,138.11 L599.55,137.80 L600.07,137.49 L600.59,137.18 L601.10,136.86 L601.62,136.55 L602.13,136.24 L602.65,135.93 L603.16,135.62 L603.68,135.31 L604.19,135.00 L604.70,134.69 L605.22,134.38 L605.73,134.07 L606.24,133.77 L606.76,133.46 L607.27,133.15 L607.78,132.85 L608.29,132.54 L608.81,132.24 L609.32,131.94 L609.83,131.64 L610.34,131.34 L610.86,131.04 L611.37,130.74 L611.88,130.44 L612.40,130.15 L612.91,129.85 L613.42,129.56 L613.94,129.27 L614.45,128.98 L614.97,128.69 L615.48,128.40 L616.00,128.11 L616.51,127.83 L617.03,127.54 L617.54,127.26 L618.06,126.98 L618.57,126.70 L619.09,126.43 L619.61,126.15 L620.12,125.87 L620.64,125.60 L621.16,125.33 L621.67,125.05 L622.19,124.78 L622.71,124.51 L623.22,124.24 L623.74,123.97 L624.25,123.70 L624.77,123.44 L625.29,123.17 L625.80,122.91 L626.32,122.64 L626.84,122.38 L627.35,122.12 L627.87,121.86 L628.39,121.60 L628.91,121.34 L629.42,121.09 L629.94,120.83 L630.46,120.58 L630.97,120.32 L631.49,120.07 L632.01,119.82 L632.53,119.57 L633.04,119.32 L633.56,119.07 L634.08,118.83 L634.60,118.58 L635.11,118.34 L635.63,118.09 L636.15,117.85 L636.67,117.61 L637.19,117.37 L637.70,117.13 L638.22,116.90 L638.74,116.66 L639.26,116.43 L639.78,116.19 L640.30,115.96 L640.82,115.73 L641.34,115.50 L641.85,115.27 L642.37,115.05 L642.89,114.82 L643.41,114.60 L643.93,114.37 L644.45,114.15 L644.97,113.93 L645.49,113.71 L646.01,113.49 L646.53,113.27 L647.05,113.06 L647.57,112.84 L648.09,112.63 L648.61,112.42 L649.13,112.21 L649.65,112.00 L650.17,111.79 L650.69,111.58 L651.21,111.38 L651.73,111.17 L652.25,110.97 L652.78,110.76 L653.30,110.56 L653.82,110.36 L654.34,110.16 L654.86,109.96 L655.38,109.77 L655.90,109.57 L656.42,109.38 L656.94,109.18 L657.46,108.99 L657.98,108.80 L658.50,108.61 L659.02,108.42 L659.55,108.23 L660.07,108.04 L660.59,107.86 L661.11,107.67 L661.63,107.49 L662.15,107.31 L662.67,107.12 L663.19,106.94 L663.71,106.76 L664.23,106.58 L664.75,106.41 L665.27,106.23 L665.80,106.05 L666.32,105.88 L666.84,105.71 L667.36,105.54 L667.88,105.37 L668.40,105.20 L668.92,105.03 L669.44,104.87 L669.97,104.70 L670.49,104.54 L671.01,104.38 L671.53,104.22 L672.05,104.06 L672.58,103.90 L673.10,103.75 L673.62,103.59 L674.14,103.44 L674.66,103.29 L675.19,103.14 L675.71,102.99 L676.23,102.84 L676.75,102.69 L677.27,102.54 L677.80,102.40 L678.32,102.25 L678.84,102.11 L679.36,101.97 L679.88,101.83 L680.41,101.68 L680.93,101.54 L681.45,101.41 L681.97,101.27 L682.49,101.13 L683.01,100.99 L683.53,100.86 L684.06,100.72 L684.58,100.59 L685.10,100.45 L685.62,100.32 L686.14,100.19 L686.66,100.06 L687.18,99.93 L687.70,99.80 L688.22,99.67 L688.74,99.54 L689.26,99.41 L689.78,99.28 L690.30,99.15 L690.81,99.02 L691.33,98.89 L691.85,98.77 L692.37,98.64 L692.89,98.51 L693.41,98.39 L693.93,98.27 L694.45,98.14 L694.96,98.02 L695.48,97.90 L696.00,97.78 L696.52,97.66 L697.04,97.55 L697.56,97.43 L698.07,97.31 L698.59,97.20 L699.11,97.09 L699.63,96.97 L700.15,96.86 L700.67,96.75 L701.19,96.64 L701.70,96.54 L702.22,96.43 L702.74,96.32 L703.26,96.22 L703.78,96.11 L704.30,96.01 L704.82,95.91 L705.33,95.81 L705.85,95.71 L706.37,95.61 L706.89,95.51 L707.41,95.42 L707.93,95.32 L708.45,95.23 L708.96,95.13 L709.48,95.04 L710.00,94.95 L710.52,94.86 L711.04,94.77 L711.56,94.68 L712.07,94.59 L712.59,94.51 L713.11,94.42 L713.63,94.34 L714.15,94.26 L714.67,94.17 L715.19,94.09 L715.70,94.01 L716.22,93.93 L716.74,93.86 L717.26,93.78 L717.78,93.70 L718.30,93.63 L718.82,93.56 L719.33,93.48 L719.85,93.41 L720.37,93.34 L720.89,93.27 L721.41,93.20 L721.93,93.14 L722.45,93.07 L722.96,93.00 L723.48,92.94 L724.00,92.88 L724.52,92.82 L725.04,92.75 L725.56,92.69 L726.07,92.64 L726.59,92.58 L727.11,92.52 L727.63,92.46 L728.15,92.41 L728.67,92.36 L729.19,92.30 L729.70,92.25 L730.22,92.20 L730.74,92.15 L731.26,92.10 L731.78,92.06 L732.30,92.01 L732.82,91.96 L733.33,91.92 L733.85,91.88 L734.37,91.83 L734.89,91.79 L735.41,91.75 L735.93,91.71 L736.45,91.67 L736.96,91.64 L737.48,91.60 L738.00,91.57 L738.52,91.53 L739.04,91.50 L739.56,91.47 L740.07,91.44 L740.59,91.41 L741.11,91.38 L741.63,91.35 L742.15,91.32 L742.67,91.30 L743.19,91.27 L743.70,91.25 L744.22,91.23 L744.74,91.21 L745.26,91.19 L745.78,91.17 L746.30,91.15 L746.82,91.13 L747.33,91.12 L747.85,91.10 L748.37,91.09 L748.89,91.07 L749.41,91.06 L749.93,91.05 L750.45,91.04 L750.96,91.03 L751.48,91.02 L752.00,91.02 L752.52,91.01 L753.04,91.01 L753.56,91.00 L754.07,91.00 L754.59,91.00 L755.11,91.00" stroke="#ff0000" stroke-width="2.5" fill="none" stroke-linejoin="round" stroke-linecap="butt"/>
<text transform="translate(601.59,117.30) scale(0.9968,1.0)" font-family="Liberation Sans, sans-serif" font-size="19.6" fill="#000">s=1000</text>
<path d="M677.9,109.85 H732.7" stroke="#00ff00" stroke-width="2.5" fill="none"/>
<path d="M132.89,88.75 L133.41,88.75 L133.93,88.76 L134.44,88.76 L134.96,88.77 L135.48,88.77 L136.00,88.78 L136.52,88.79 L137.04,88.80 L137.55,88.81 L138.07,88.82 L138.59,88.84 L139.11,88.85 L139.63,88.87 L140.15,88.88 L140.67,88.90 L141.18,88.92 L141.70,88.94 L142.22,88.96 L142.74,88.98 L143.26,89.00 L143.78,89.02 L144.30,89.05 L144.81,89.08 L145.33,89.10 L145.85,89.13 L146.37,89.16 L146.89,89.19 L147.41,89.22 L147.93,89.25 L148.44,89.29 L148.96,89.32 L149.48,89.36 L150.00,89.39 L150.52,89.43 L151.04,89.47 L151.55,89.51 L152.07,89.55 L152.59,89.59 L153.11,89.63 L153.63,89.68 L154.15,89.72 L154.67,89.77 L155.18,89.82 L155.70,89.86 L156.22,89.91 L156.74,89.96 L157.26,90.02 L157.78,90.07 L158.30,90.12 L158.81,90.18 L159.33,90.23 L159.85,90.29 L160.37,90.35 L160.89,90.41 L161.41,90.47 L161.93,90.53 L162.44,90.59 L162.96,90.65 L163.48,90.72 L164.00,90.78 L164.52,90.85 L165.04,90.92 L165.55,90.99 L166.07,91.06 L166.59,91.13 L167.11,91.20 L167.63,91.27 L168.15,91.35 L168.67,91.42 L169.18,91.50 L169.70,91.58 L170.22,91.66 L170.74,91.74 L171.26,91.82 L171.78,91.90 L172.30,91.98 L172.81,92.07 L173.33,92.15 L173.85,92.24 L174.37,92.32 L174.89,92.41 L175.41,92.50 L175.93,92.59 L176.44,92.68 L176.96,92.78 L177.48,92.87 L178.00,92.97 L178.52,93.06 L179.04,93.16 L179.55,93.26 L180.07,93.36 L180.59,93.46 L181.11,93.56 L181.63,93.66 L182.15,93.77 L182.67,93.87 L183.18,93.98 L183.70,94.08 L184.22,94.19 L184.74,94.30 L185.26,94.41 L185.78,94.52 L186.30,94.63 L186.81,94.75 L187.33,94.86 L187.85,94.98 L188.37,95.09 L188.89,95.21 L189.41,95.33 L189.93,95.45 L190.44,95.57 L190.96,95.69 L191.48,95.82 L192.00,95.94 L192.52,96.07 L193.04,96.19 L193.55,96.32 L194.07,96.45 L194.59,96.58 L195.11,96.71 L195.63,96.84 L196.15,96.97 L196.67,97.11 L197.18,97.24 L197.70,97.38 L198.22,97.51 L198.74,97.65 L199.26,97.79 L199.78,97.93 L200.30,98.07 L200.81,98.21 L201.33,98.36 L201.85,98.50 L202.37,98.64 L202.89,98.79 L203.41,98.94 L203.93,99.09 L204.44,99.23 L204.96,99.38 L205.48,99.54 L206.00,99.69 L206.52,99.84 L207.04,99.99 L207.55,100.15 L208.07,100.31 L208.59,100.46 L209.11,100.62 L209.63,100.78 L210.15,100.94 L210.67,101.10 L211.18,101.27 L211.70,101.43 L212.22,101.59 L212.74,101.76 L213.26,101.93 L213.78,102.09 L214.30,102.26 L214.81,102.43 L215.33,102.60 L215.85,102.77 L216.37,102.95 L216.89,103.12 L217.41,103.29 L217.93,103.47 L218.44,103.65 L218.96,103.82 L219.48,104.00 L220.00,104.18 L220.52,104.36 L221.04,104.55 L221.55,104.73 L222.07,104.91 L222.59,105.10 L223.11,105.29 L223.63,105.47 L224.15,105.66 L224.67,105.85 L225.18,106.04 L225.70,106.23 L226.22,106.43 L226.74,106.62 L227.26,106.82 L227.78,107.01 L228.30,107.21 L228.81,107.41 L229.33,107.61 L229.85,107.81 L230.37,108.01 L230.89,108.21 L231.41,108.42 L231.93,108.62 L232.44,108.83 L232.96,109.04 L233.48,109.25 L234.00,109.46 L234.52,109.67 L235.04,109.88 L235.56,110.09 L236.07,110.31 L236.59,110.53 L237.11,110.74 L237.63,110.96 L238.15,111.18 L238.67,111.40 L239.18,111.62 L239.70,111.85 L240.22,112.07 L240.74,112.30 L241.26,112.52 L241.78,112.75 L242.30,112.98 L242.81,113.21 L243.33,113.44 L243.85,113.68 L244.37,113.91 L244.89,114.15 L245.41,114.38 L245.93,114.62 L246.44,114.86 L246.96,115.10 L247.48,115.35 L248.00,115.59 L248.52,115.83 L249.04,116.08 L249.56,116.33 L250.07,116.58 L250.59,116.83 L251.11,117.08 L251.63,117.33 L252.15,117.59 L252.67,117.84 L253.18,118.10 L253.70,118.36 L254.22,118.62 L254.74,118.88 L255.26,119.14 L255.78,119.41 L256.30,119.67 L256.81,119.94 L257.33,120.21 L257.85,120.48 L258.37,120.75 L258.89,121.02 L259.41,121.29 L259.93,121.57 L260.44,121.86 L260.96,122.14 L261.48,122.43 L262.00,122.72 L262.52,123.02 L263.04,123.32 L263.56,123.62 L264.07,123.93 L264.59,124.23 L265.11,124.55 L265.63,124.86 L266.15,125.17 L266.67,125.49 L267.18,125.81 L267.70,126.14 L268.22,126.46 L268.74,126.79 L269.26,127.11 L269.78,127.44 L270.30,127.77 L270.81,128.10 L271.33,128.44 L271.85,128.77 L272.37,129.10 L272.89,129.44 L273.41,129.77 L273.93,130.11 L274.44,130.45 L274.96,130.78 L275.48,131.12 L276.00,131.45 L276.52,131.79 L277.04,132.12 L277.56,132.46 L278.07,132.79 L278.59,133.12 L279.11,133.45 L279.63,133.78 L280.15,134.11 L280.67,134.44 L281.18,134.78 L281.70,135.11 L282.22,135.45 L282.74,135.78 L283.26,136.12 L283.78,136.46 L284.30,136.80 L284.81,137.14 L285.33,137.48 L285.85,137.83 L286.37,138.17 L286.89,138.52 L287.41,138.87 L287.93,139.22 L288.44,139.57 L288.96,139.92 L289.48,140.27 L290.00,140.62 L290.52,140.98 L291.04,141.33 L291.56,141.69 L292.07,142.05 L292.59,142.41 L293.11,142.77 L293.63,143.14 L294.15,143.50 L294.67,143.87 L295.18,144.23 L295.70,144.60 L296.22,144.97 L296.74,145.35 L297.26,145.72 L297.78,146.09 L298.30,146.47 L298.81,146.84 L299.33,147.22 L299.85,147.60 L300.37,147.98 L300.89,148.37 L301.41,148.75 L301.93,149.13 L302.44,149.52 L302.96,149.91 L303.48,150.30 L304.00,150.69 L304.52,151.08 L305.04,151.47 L305.56,151.87 L306.07,152.26 L306.59,152.66 L307.11,153.06 L307.63,153.46 L308.15,153.86 L308.67,154.27 L309.18,154.67 L309.70,155.08 L310.22,155.49 L310.74,155.90 L311.26,156.31 L311.78,156.72 L312.30,157.13 L312.81,157.55 L313.33,157.97 L313.85,158.39 L314.37,158.81 L314.89,159.23 L315.41,159.65 L315.93,160.08 L316.44,160.50 L316.96,160.93 L317.48,161.36 L318.00,161.79 L318.52,162.23 L319.04,162.66 L319.56,163.10 L320.07,163.54 L320.59,163.98 L321.11,164.42 L321.63,164.86 L322.15,165.31 L322.67,165.75 L323.18,166.20 L323.70,166.65 L324.22,167.10 L324.74,167.55 L325.26,168.01 L325.78,168.46 L326.30,168.92 L326.81,169.38 L327.33,169.84 L327.85,170.30 L328.37,170.77 L328.89,171.23 L329.41,171.70 L329.93,172.17 L330.44,172.64 L330.96,173.11 L331.48,173.59 L332.00,174.07 L332.52,174.54 L333.04,175.02 L333.56,175.51 L334.07,175.99 L334.59,176.48 L335.11,176.96 L335.63,177.45 L336.15,177.94 L336.67,178.44 L337.18,178.93 L337.70,179.43 L338.22,179.92 L338.74,180.42 L339.26,180.93 L339.78,181.43 L340.30,181.94 L340.81,182.44 L341.33,182.95 L341.85,183.46 L342.37,183.97 L342.89,184.48 L343.41,185.00 L343.93,185.51 L344.44,186.03 L344.96,186.55 L345.48,187.06 L346.00,187.58 L346.52,188.11 L347.04,188.63 L347.56,189.15 L348.07,189.68 L348.59,190.21 L349.11,190.73 L349.63,191.26 L350.15,191.79 L350.67,192.32 L351.18,192.86 L351.70,193.39 L352.22,193.93 L352.74,194.47 L353.26,195.01 L353.78,195.55 L354.30,196.09 L354.81,196.64 L355.33,197.19 L355.85,197.74 L356.37,198.29 L356.89,198.85 L357.41,199.41 L357.93,199.97 L358.44,200.54 L358.96,201.10 L359.48,201.68 L360.00,202.25 L360.52,202.82 L361.04,203.40 L361.56,203.99 L362.07,204.57 L362.59,205.16 L363.11,205.75 L363.63,206.35 L364.15,206.94 L364.67,207.54 L365.18,208.15 L365.70,208.75 L366.22,209.36 L366.74,209.97 L367.26,210.59 L367.78,211.21 L368.30,211.83 L368.81,212.46 L369.33,213.09 L369.85,213.72 L370.37,214.35 L370.89,214.99 L371.41,215.63 L371.93,216.28 L372.44,216.93 L372.96,217.58 L373.48,218.23 L374.00,218.89 L374.52,219.54 L375.04,220.21 L375.56,220.87 L376.07,221.54 L376.59,222.21 L377.11,222.89 L377.63,223.57 L378.15,224.25 L378.67,224.93 L379.19,225.62 L379.70,226.31 L380.22,227.01 L380.74,227.71 L381.26,228.41 L381.78,229.11 L382.30,229.82 L382.81,230.54 L383.33,231.25 L383.85,231.97 L384.37,232.70 L384.89,233.42 L385.41,234.16 L385.93,234.89 L386.44,235.63 L386.96,236.37 L387.48,237.12 L388.00,237.87 L388.52,238.63 L389.04,239.39 L389.56,240.15 L390.07,240.92 L390.59,241.69 L391.11,242.47 L391.63,243.25 L392.15,244.04 L392.67,244.83 L393.19,245.62 L393.70,246.42 L394.22,247.23 L394.74,248.03 L395.26,248.85 L395.78,249.67 L396.30,250.49 L396.81,251.32 L397.33,252.16 L397.85,253.00 L398.37,253.84 L398.89,254.69 L399.41,255.55 L399.93,256.41 L400.44,257.28 L400.96,258.15 L401.47,259.03 L401.98,259.92 L402.49,260.81 L403.00,261.71 L403.51,262.62 L404.02,263.54 L404.52,264.46 L405.02,265.39 L405.53,266.32 L406.03,267.26 L406.53,268.21 L407.03,269.17 L407.53,270.13 L408.03,271.10 L408.53,272.07 L409.03,273.05 L409.53,274.04 L410.04,275.04 L410.54,276.04 L411.04,277.05 L411.54,278.06 L412.05,279.08 L412.55,280.11 L413.06,281.14 L413.57,282.18 L414.08,283.23 L414.59,284.29 L415.10,285.35 L415.61,286.42 L416.11,287.49 L416.62,288.57 L417.13,289.66 L417.64,290.76 L418.16,291.86 L418.67,292.97 L419.18,294.08 L419.70,295.20 L420.21,296.33 L420.73,297.46 L421.25,298.59 L421.78,299.73 L422.31,300.87 L422.84,302.01 L423.38,303.16 L423.92,304.30 L424.46,305.45 L425.00,306.60 L425.55,307.75 L426.09,308.90 L426.63,310.05 L427.18,311.20 L427.72,312.35 L428.26,313.49 L428.80,314.63 L429.34,315.76 L429.88,316.88 L430.41,318.00 L430.94,319.10 L431.46,320.20 L431.98,321.28 L432.50,322.34 L433.02,323.39 L433.53,324.41 L434.05,325.41 L434.56,326.38 L435.07,327.32 L435.58,328.23 L436.09,329.11 L436.60,329.95 L437.11,330.75 L437.62,331.50 L438.13,332.22 L438.64,332.88 L439.15,333.50 L439.66,334.07 L440.17,334.58 L440.68,335.05 L441.20,335.46 L441.73,335.81 L442.28,336.10 L442.84,336.32 L443.41,336.48 L444.00,336.57 L444.59,336.48 L445.16,336.32 L445.72,336.10 L446.27,335.81 L446.80,335.46 L447.32,335.05 L447.83,334.58 L448.34,334.07 L448.85,333.50 L449.36,332.88 L449.87,332.22 L450.38,331.50 L450.89,330.75 L451.40,329.95 L451.91,329.11 L452.42,328.23 L452.93,327.32 L453.44,326.38 L453.95,325.41 L454.47,324.41 L454.98,323.39 L455.50,322.34 L456.02,321.28 L456.54,320.20 L457.06,319.10 L457.59,318.00 L458.12,316.88 L458.66,315.76 L459.20,314.63 L459.74,313.49 L460.28,312.35 L460.82,311.20 L461.37,310.05 L461.91,308.90 L462.45,307.75 L463.00,306.60 L463.54,305.45 L464.08,304.30 L464.62,303.16 L465.16,302.01 L465.69,300.87 L466.22,299.73 L466.75,298.59 L467.27,297.46 L467.79,296.33 L468.30,295.20 L468.82,294.08 L469.33,292.97 L469.84,291.86 L470.36,290.76 L470.87,289.66 L471.38,288.57 L471.89,287.49 L472.39,286.42 L472.90,285.35 L473.41,284.29 L473.92,283.23 L474.43,282.18 L474.94,281.14 L475.45,280.11 L475.95,279.08 L476.46,278.06 L476.96,277.05 L477.46,276.04 L477.96,275.04 L478.47,274.04 L478.97,273.05 L479.47,272.07 L479.97,271.10 L480.47,270.13 L480.97,269.17 L481.47,268.21 L481.97,267.26 L482.47,266.32 L482.98,265.39 L483.48,264.46 L483.98,263.54 L484.49,262.62 L485.00,261.71 L485.51,260.81 L486.02,259.92 L486.53,259.03 L487.04,258.15 L487.56,257.28 L488.07,256.41 L488.59,255.55 L489.11,254.69 L489.63,253.84 L490.15,253.00 L490.67,252.16 L491.19,251.32 L491.70,250.49 L492.22,249.67 L492.74,248.85 L493.26,248.03 L493.78,247.23 L494.30,246.42 L494.81,245.62 L495.33,244.83 L495.85,244.04 L496.37,243.25 L496.89,242.47 L497.41,241.69 L497.93,240.92 L498.44,240.15 L498.96,239.39 L499.48,238.63 L500.00,237.87 L500.52,237.12 L501.04,236.37 L501.56,235.63 L502.07,234.89 L502.59,234.16 L503.11,233.42 L503.63,232.70 L504.15,231.97 L504.67,231.25 L505.19,230.54 L505.70,229.82 L506.22,229.11 L506.74,228.41 L507.26,227.71 L507.78,227.01 L508.30,226.31 L508.81,225.62 L509.33,224.93 L509.85,224.25 L510.37,223.57 L510.89,222.89 L511.41,222.21 L511.93,221.54 L512.44,220.87 L512.96,220.21 L513.48,219.54 L514.00,218.89 L514.52,218.23 L515.04,217.58 L515.56,216.93 L516.07,216.28 L516.59,215.63 L517.11,214.99 L517.63,214.35 L518.15,213.72 L518.67,213.09 L519.19,212.46 L519.70,211.83 L520.22,211.21 L520.74,210.59 L521.26,209.97 L521.78,209.36 L522.30,208.75 L522.82,208.15 L523.33,207.54 L523.85,206.94 L524.37,206.35 L524.89,205.75 L525.41,205.16 L525.93,204.57 L526.44,203.99 L526.96,203.40 L527.48,202.82 L528.00,202.25 L528.52,201.68 L529.04,201.10 L529.56,200.54 L530.07,199.97 L530.59,199.41 L531.11,198.85 L531.63,198.29 L532.15,197.74 L532.67,197.19 L533.19,196.64 L533.70,196.09 L534.22,195.55 L534.74,195.01 L535.26,194.47 L535.78,193.93 L536.30,193.39 L536.82,192.86 L537.33,192.32 L537.85,191.79 L538.37,191.26 L538.89,190.73 L539.41,190.21 L539.93,189.68 L540.44,189.15 L540.96,188.63 L541.48,188.11 L542.00,187.58 L542.52,187.06 L543.04,186.55 L543.56,186.03 L544.07,185.51 L544.59,185.00 L545.11,184.48 L545.63,183.97 L546.15,183.46 L546.67,182.95 L547.19,182.44 L547.70,181.94 L548.22,181.43 L548.74,180.93 L549.26,180.42 L549.78,179.92 L550.30,179.43 L550.82,178.93 L551.33,178.44 L551.85,177.94 L552.37,177.45 L552.89,176.96 L553.41,176.48 L553.93,175.99 L554.44,175.51 L554.96,175.02 L555.48,174.54 L556.00,174.07 L556.52,173.59 L557.04,173.11 L557.56,172.64 L558.07,172.17 L558.59,171.70 L559.11,171.23 L559.63,170.77 L560.15,170.30 L560.67,169.84 L561.19,169.38 L561.70,168.92 L562.22,168.46 L562.74,168.01 L563.26,167.55 L563.78,167.10 L564.30,166.65 L564.82,166.20 L565.33,165.75 L565.85,165.31 L566.37,164.86 L566.89,164.42 L567.41,163.98 L567.93,163.54 L568.44,163.10 L568.96,162.66 L569.48,162.23 L570.00,161.79 L570.52,161.36 L571.04,160.93 L571.56,160.50 L572.07,160.08 L572.59,159.65 L573.11,159.23 L573.63,158.81 L574.15,158.39 L574.67,157.97 L575.19,157.55 L575.70,157.13 L576.22,156.72 L576.74,156.31 L577.26,155.90 L577.78,155.49 L578.30,155.08 L578.82,154.67 L579.33,154.27 L579.85,153.86 L580.37,153.46 L580.89,153.06 L581.41,152.66 L581.93,152.26 L582.44,151.87 L582.96,151.47 L583.48,151.08 L584.00,150.69 L584.52,150.30 L585.04,149.91 L585.56,149.52 L586.07,149.13 L586.59,148.75 L587.11,148.37 L587.63,147.98 L588.15,147.60 L588.67,147.22 L589.19,146.84 L589.70,146.47 L590.22,146.09 L590.74,145.72 L591.26,145.35 L591.78,144.97 L592.30,144.60 L592.82,144.23 L593.33,143.87 L593.85,143.50 L594.37,143.14 L594.89,142.77 L595.41,142.41 L595.93,142.05 L596.44,141.69 L596.96,141.33 L597.48,140.98 L598.00,140.62 L598.52,140.27 L599.04,139.92 L599.56,139.57 L600.07,139.22 L600.59,138.87 L601.11,138.52 L601.63,138.17 L602.15,137.83 L602.67,137.48 L603.19,137.14 L603.70,136.80 L604.22,136.46 L604.74,136.12 L605.26,135.78 L605.78,135.45 L606.30,135.11 L606.82,134.78 L607.33,134.44 L607.85,134.11 L608.37,133.78 L608.89,133.45 L609.41,133.12 L609.93,132.79 L610.44,132.46 L610.96,132.12 L611.48,131.79 L612.00,131.45 L612.52,131.12 L613.04,130.78 L613.56,130.45 L614.07,130.11 L614.59,129.77 L615.11,129.44 L615.63,129.10 L616.15,128.77 L616.67,128.44 L617.19,128.10 L617.70,127.77 L618.22,127.44 L618.74,127.11 L619.26,126.79 L619.78,126.46 L620.30,126.14 L620.82,125.81 L621.33,125.49 L621.85,125.17 L622.37,124.86 L622.89,124.55 L623.41,124.23 L623.93,123.93 L624.44,123.62 L624.96,123.32 L625.48,123.02 L626.00,122.72 L626.52,122.43 L627.04,122.14 L627.56,121.86 L628.07,121.57 L628.59,121.29 L629.11,121.02 L629.63,120.75 L630.15,120.48 L630.67,120.21 L631.19,119.94 L631.70,119.67 L632.22,119.41 L632.74,119.14 L633.26,118.88 L633.78,118.62 L634.30,118.36 L634.82,118.10 L635.33,117.84 L635.85,117.59 L636.37,117.33 L636.89,117.08 L637.41,116.83 L637.93,116.58 L638.44,116.33 L638.96,116.08 L639.48,115.83 L640.00,115.59 L640.52,115.35 L641.04,115.10 L641.56,114.86 L642.07,114.62 L642.59,114.38 L643.11,114.15 L643.63,113.91 L644.15,113.68 L644.67,113.44 L645.19,113.21 L645.70,112.98 L646.22,112.75 L646.74,112.52 L647.26,112.30 L647.78,112.07 L648.30,111.85 L648.82,111.62 L649.33,111.40 L649.85,111.18 L650.37,110.96 L650.89,110.74 L651.41,110.53 L651.93,110.31 L652.44,110.09 L652.96,109.88 L653.48,109.67 L654.00,109.46 L654.52,109.25 L655.04,109.04 L655.56,108.83 L656.07,108.62 L656.59,108.42 L657.11,108.21 L657.63,108.01 L658.15,107.81 L658.67,107.61 L659.19,107.41 L659.70,107.21 L660.22,107.01 L660.74,106.82 L661.26,106.62 L661.78,106.43 L662.30,106.23 L662.82,106.04 L663.33,105.85 L663.85,105.66 L664.37,105.47 L664.89,105.29 L665.41,105.10 L665.93,104.91 L666.45,104.73 L666.96,104.55 L667.48,104.36 L668.00,104.18 L668.52,104.00 L669.04,103.82 L669.56,103.65 L670.07,103.47 L670.59,103.29 L671.11,103.12 L671.63,102.95 L672.15,102.77 L672.67,102.60 L673.19,102.43 L673.70,102.26 L674.22,102.09 L674.74,101.93 L675.26,101.76 L675.78,101.59 L676.30,101.43 L676.82,101.27 L677.33,101.10 L677.85,100.94 L678.37,100.78 L678.89,100.62 L679.41,100.46 L679.93,100.31 L680.45,100.15 L680.96,99.99 L681.48,99.84 L682.00,99.69 L682.52,99.54 L683.04,99.38 L683.56,99.23 L684.07,99.09 L684.59,98.94 L685.11,98.79 L685.63,98.64 L686.15,98.50 L686.67,98.36 L687.19,98.21 L687.70,98.07 L688.22,97.93 L688.74,97.79 L689.26,97.65 L689.78,97.51 L690.30,97.38 L690.82,97.24 L691.33,97.11 L691.85,96.97 L692.37,96.84 L692.89,96.71 L693.41,96.58 L693.93,96.45 L694.45,96.32 L694.96,96.19 L695.48,96.07 L696.00,95.94 L696.52,95.82 L697.04,95.69 L697.56,95.57 L698.07,95.45 L698.59,95.33 L699.11,95.21 L699.63,95.09 L700.15,94.98 L700.67,94.86 L701.19,94.75 L701.70,94.63 L702.22,94.52 L702.74,94.41 L703.26,94.30 L703.78,94.19 L704.30,94.08 L704.82,93.98 L705.33,93.87 L705.85,93.77 L706.37,93.66 L706.89,93.56 L707.41,93.46 L707.93,93.36 L708.45,93.26 L708.96,93.16 L709.48,93.06 L710.00,92.97 L710.52,92.87 L711.04,92.78 L711.56,92.68 L712.07,92.59 L712.59,92.50 L713.11,92.41 L713.63,92.32 L714.15,92.24 L714.67,92.15 L715.19,92.07 L715.70,91.98 L716.22,91.90 L716.74,91.82 L717.26,91.74 L717.78,91.66 L718.30,91.58 L718.82,91.50 L719.33,91.42 L719.85,91.35 L720.37,91.27 L720.89,91.20 L721.41,91.13 L721.93,91.06 L722.45,90.99 L722.96,90.92 L723.48,90.85 L724.00,90.78 L724.52,90.72 L725.04,90.65 L725.56,90.59 L726.07,90.53 L726.59,90.47 L727.11,90.41 L727.63,90.35 L728.15,90.29 L728.67,90.23 L729.19,90.18 L729.70,90.12 L730.22,90.07 L730.74,90.02 L731.26,89.96 L731.78,89.91 L732.30,89.86 L732.82,89.82 L733.33,89.77 L733.85,89.72 L734.37,89.68 L734.89,89.63 L735.41,89.59 L735.93,89.55 L736.45,89.51 L736.96,89.47 L737.48,89.43 L738.00,89.39 L738.52,89.36 L739.04,89.32 L739.56,89.29 L740.07,89.25 L740.59,89.22 L741.11,89.19 L741.63,89.16 L742.15,89.13 L742.67,89.10 L743.19,89.08 L743.70,89.05 L744.22,89.02 L744.74,89.00 L745.26,88.98 L745.78,88.96 L746.30,88.94 L746.82,88.92 L747.33,88.90 L747.85,88.88 L748.37,88.87 L748.89,88.85 L749.41,88.84 L749.93,88.82 L750.45,88.81 L750.96,88.80 L751.48,88.79 L752.00,88.78 L752.52,88.77 L753.04,88.77 L753.56,88.76 L754.07,88.76 L754.59,88.75 L755.11,88.75" stroke="#00ff00" stroke-width="2.5" fill="none" stroke-linejoin="round" stroke-linecap="butt"/>
<text transform="translate(590.59,143.70) scale(0.9986,1.0)" font-family="Liberation Sans, sans-serif" font-size="19.6" fill="#000">s=10000</text>
<path d="M677.9,136.25 H732.7" stroke="#ff00ff" stroke-width="2.5" fill="none"/>
<path d="M132.89,88.50 L133.41,88.50 L133.93,88.51 L134.44,88.51 L134.96,88.52 L135.48,88.53 L136.00,88.53 L136.52,88.54 L137.04,88.55 L137.55,88.56 L138.07,88.58 L138.59,88.59 L139.11,88.60 L139.63,88.62 L140.15,88.63 L140.66,88.65 L141.18,88.67 L141.70,88.69 L142.22,88.71 L142.74,88.73 L143.26,88.76 L143.78,88.78 L144.29,88.80 L144.81,88.83 L145.33,88.86 L145.85,88.89 L146.37,88.92 L146.89,88.95 L147.40,88.98 L147.92,89.01 L148.44,89.04 L148.96,89.08 L149.48,89.11 L149.99,89.15 L150.51,89.19 L151.03,89.23 L151.55,89.27 L152.07,89.31 L152.59,89.35 L153.10,89.39 L153.62,89.44 L154.14,89.48 L154.66,89.53 L155.18,89.58 L155.70,89.63 L156.21,89.68 L156.73,89.73 L157.25,89.78 L157.77,89.83 L158.29,89.88 L158.80,89.94 L159.32,90.00 L159.84,90.05 L160.36,90.11 L160.88,90.17 L161.39,90.23 L161.91,90.29 L162.43,90.35 L162.95,90.42 L163.47,90.48 L163.99,90.55 L164.50,90.62 L165.02,90.68 L165.54,90.75 L166.06,90.82 L166.58,90.89 L167.09,90.97 L167.61,91.04 L168.13,91.12 L168.65,91.19 L169.17,91.27 L169.68,91.35 L170.20,91.42 L170.72,91.50 L171.24,91.59 L171.75,91.67 L172.27,91.75 L172.79,91.84 L173.31,91.92 L173.83,92.01 L174.34,92.10 L174.86,92.19 L175.38,92.27 L175.90,92.37 L176.42,92.46 L176.93,92.55 L177.45,92.65 L177.97,92.74 L178.49,92.84 L179.00,92.93 L179.52,93.03 L180.04,93.13 L180.56,93.23 L181.08,93.34 L181.59,93.44 L182.11,93.54 L182.63,93.65 L183.15,93.75 L183.66,93.86 L184.18,93.97 L184.70,94.08 L185.22,94.19 L185.74,94.30 L186.25,94.41 L186.77,94.53 L187.29,94.64 L187.81,94.76 L188.32,94.87 L188.84,94.99 L189.36,95.11 L189.88,95.23 L190.40,95.35 L190.91,95.48 L191.43,95.60 L191.95,95.72 L192.47,95.85 L192.98,95.98 L193.50,96.10 L194.02,96.23 L194.54,96.36 L195.05,96.49 L195.57,96.63 L196.09,96.76 L196.61,96.89 L197.13,97.03 L197.64,97.16 L198.16,97.30 L198.68,97.44 L199.20,97.58 L199.71,97.72 L200.23,97.86 L200.75,98.00 L201.27,98.15 L201.79,98.29 L202.30,98.44 L202.82,98.59 L203.34,98.73 L203.86,98.88 L204.38,99.03 L204.89,99.19 L205.41,99.34 L205.93,99.49 L206.45,99.65 L206.96,99.80 L207.48,99.96 L208.00,100.12 L208.52,100.28 L209.04,100.44 L209.55,100.60 L210.07,100.76 L210.59,100.92 L211.11,101.09 L211.63,101.25 L212.15,101.42 L212.66,101.58 L213.18,101.75 L213.70,101.92 L214.22,102.09 L214.74,102.26 L215.26,102.43 L215.77,102.61 L216.29,102.78 L216.81,102.96 L217.33,103.13 L217.85,103.31 L218.37,103.49 L218.89,103.67 L219.41,103.85 L219.92,104.03 L220.44,104.21 L220.96,104.40 L221.48,104.58 L222.00,104.77 L222.52,104.95 L223.04,105.14 L223.56,105.33 L224.08,105.52 L224.60,105.71 L225.12,105.90 L225.64,106.10 L226.16,106.29 L226.67,106.49 L227.19,106.68 L227.71,106.88 L228.23,107.08 L228.75,107.28 L229.27,107.48 L229.79,107.68 L230.31,107.89 L230.83,108.09 L231.35,108.30 L231.87,108.50 L232.39,108.71 L232.91,108.92 L233.43,109.13 L233.95,109.34 L234.47,109.56 L234.99,109.77 L235.51,109.99 L236.03,110.20 L236.55,110.42 L237.07,110.64 L237.59,110.86 L238.11,111.08 L238.63,111.30 L239.15,111.53 L239.67,111.75 L240.19,111.98 L240.71,112.21 L241.23,112.44 L241.75,112.67 L242.27,112.90 L242.79,113.13 L243.31,113.36 L243.83,113.60 L244.35,113.84 L244.87,114.07 L245.39,114.31 L245.91,114.55 L246.43,114.79 L246.95,115.04 L247.47,115.28 L247.99,115.53 L248.51,115.77 L249.02,116.02 L249.54,116.27 L250.06,116.52 L250.58,116.77 L251.10,117.03 L251.62,117.28 L252.14,117.54 L252.66,117.80 L253.18,118.06 L253.70,118.32 L254.22,118.58 L254.74,118.84 L255.26,119.11 L255.78,119.37 L256.29,119.64 L256.81,119.91 L257.33,120.18 L257.85,120.45 L258.37,120.72 L258.89,121.00 L259.41,121.27 L259.92,121.55 L260.44,121.83 L260.95,122.12 L261.47,122.41 L261.98,122.70 L262.49,123.00 L263.00,123.30 L263.51,123.60 L264.02,123.90 L264.53,124.21 L265.04,124.52 L265.55,124.83 L266.05,125.14 L266.56,125.45 L267.06,125.77 L267.57,126.09 L268.07,126.41 L268.58,126.73 L269.08,127.06 L269.59,127.38 L270.09,127.71 L270.60,128.03 L271.10,128.36 L271.60,128.69 L272.11,129.02 L272.61,129.35 L273.12,129.68 L273.62,130.01 L274.13,130.35 L274.64,130.68 L275.14,131.01 L275.65,131.34 L276.16,131.68 L276.67,132.01 L277.18,132.34 L277.69,132.68 L278.20,133.01 L278.72,133.34 L279.23,133.67 L279.75,134.00 L280.26,134.33 L280.78,134.66 L281.29,135.00 L281.81,135.33 L282.33,135.67 L282.84,136.01 L283.36,136.35 L283.87,136.69 L284.39,137.03 L284.91,137.37 L285.42,137.72 L285.94,138.06 L286.46,138.41 L286.97,138.76 L287.49,139.11 L288.00,139.46 L288.52,139.81 L289.04,140.17 L289.55,140.52 L290.07,140.88 L290.59,141.24 L291.10,141.60 L291.62,141.96 L292.14,142.32 L292.65,142.69 L293.17,143.05 L293.69,143.42 L294.20,143.79 L294.72,144.16 L295.24,144.53 L295.76,144.90 L296.27,145.28 L296.79,145.65 L297.31,146.03 L297.82,146.41 L298.34,146.79 L298.86,147.17 L299.37,147.55 L299.89,147.94 L300.41,148.32 L300.93,148.71 L301.44,149.10 L301.96,149.49 L302.48,149.88 L303.00,150.27 L303.52,150.67 L304.03,151.06 L304.55,151.46 L305.07,151.86 L305.59,152.26 L306.11,152.66 L306.63,153.07 L307.14,153.47 L307.66,153.88 L308.18,154.29 L308.70,154.70 L309.22,155.11 L309.74,155.52 L310.26,155.94 L310.77,156.35 L311.29,156.77 L311.81,157.19 L312.33,157.61 L312.85,158.03 L313.37,158.46 L313.89,158.88 L314.41,159.31 L314.92,159.74 L315.44,160.17 L315.96,160.61 L316.48,161.04 L317.00,161.48 L317.52,161.92 L318.04,162.36 L318.56,162.80 L319.08,163.24 L319.60,163.69 L320.12,164.13 L320.64,164.58 L321.15,165.03 L321.67,165.48 L322.19,165.94 L322.71,166.39 L323.23,166.85 L323.75,167.31 L324.27,167.77 L324.79,168.23 L325.31,168.70 L325.83,169.16 L326.35,169.63 L326.87,170.10 L327.39,170.57 L327.91,171.05 L328.43,171.52 L328.96,172.00 L329.48,172.48 L330.00,172.96 L330.52,173.44 L331.04,173.93 L331.56,174.42 L332.08,174.90 L332.60,175.40 L333.12,175.89 L333.64,176.38 L334.16,176.88 L334.69,177.38 L335.21,177.88 L335.73,178.38 L336.25,178.89 L336.77,179.40 L337.29,179.90 L337.81,180.42 L338.34,180.93 L338.86,181.44 L339.38,181.96 L339.90,182.48 L340.42,183.00 L340.95,183.53 L341.47,184.05 L341.99,184.58 L342.51,185.11 L343.04,185.65 L343.56,186.18 L344.08,186.72 L344.61,187.26 L345.13,187.80 L345.65,188.34 L346.17,188.89 L346.70,189.44 L347.22,189.99 L347.74,190.54 L348.27,191.10 L348.79,191.66 L349.32,192.22 L349.84,192.78 L350.37,193.34 L350.90,193.91 L351.42,194.48 L351.95,195.05 L352.48,195.62 L353.01,196.19 L353.54,196.77 L354.06,197.35 L354.59,197.93 L355.12,198.52 L355.65,199.10 L356.18,199.70 L356.71,200.29 L357.24,200.88 L357.77,201.48 L358.30,202.08 L358.83,202.69 L359.36,203.29 L359.89,203.90 L360.43,204.52 L360.96,205.13 L361.49,205.75 L362.02,206.38 L362.54,207.00 L363.07,207.63 L363.60,208.27 L364.13,208.90 L364.66,209.54 L365.19,210.19 L365.72,210.83 L366.24,211.48 L366.77,212.14 L367.30,212.80 L367.82,213.46 L368.35,214.13 L368.87,214.80 L369.40,215.47 L369.92,216.14 L370.45,216.82 L370.98,217.51 L371.50,218.20 L372.03,218.89 L372.55,219.58 L373.08,220.28 L373.61,220.98 L374.14,221.68 L374.66,222.39 L375.19,223.11 L375.72,223.82 L376.25,224.54 L376.79,225.26 L377.32,225.99 L377.86,226.72 L378.40,227.44 L378.95,228.17 L379.51,228.90 L380.06,229.63 L380.62,230.37 L381.18,231.11 L381.73,231.86 L382.28,232.61 L382.83,233.38 L383.38,234.15 L383.91,234.93 L384.44,235.72 L384.96,236.52 L385.48,237.33 L385.99,238.14 L386.51,238.96 L387.03,239.78 L387.54,240.62 L388.06,241.45 L388.58,242.29 L389.09,243.14 L389.60,244.00 L390.12,244.86 L390.63,245.73 L391.14,246.60 L391.65,247.48 L392.17,248.36 L392.68,249.26 L393.19,250.16 L393.70,251.06 L394.21,251.98 L394.72,252.90 L395.23,253.83 L395.74,254.76 L396.25,255.70 L396.76,256.65 L397.28,257.61 L397.79,258.57 L398.30,259.55 L398.81,260.53 L399.32,261.52 L399.83,262.52 L400.34,263.52 L400.85,264.54 L401.36,265.56 L401.88,266.60 L402.39,267.64 L402.90,268.69 L403.41,269.76 L403.93,270.83 L404.44,271.91 L404.95,273.01 L405.46,274.11 L405.98,275.23 L406.49,276.36 L407.00,277.50 L407.51,278.65 L408.03,279.82 L408.54,281.00 L409.05,282.19 L409.56,283.40 L410.07,284.62 L410.59,285.86 L411.10,287.11 L411.61,288.37 L412.12,289.66 L412.63,290.96 L413.14,292.27 L413.65,293.61 L414.16,294.96 L414.67,296.34 L415.18,297.73 L415.68,299.14 L416.19,300.58 L416.69,302.04 L417.19,303.52 L417.70,305.02 L418.20,306.55 L418.70,308.10 L419.20,309.68 L419.71,311.29 L420.21,312.92 L420.71,314.59 L421.22,316.29 L421.73,318.01 L422.24,319.77 L422.75,321.57 L423.26,323.40 L423.78,325.27 L424.30,327.18 L424.81,329.13 L425.33,331.12 L425.85,333.17 L426.37,335.26 L426.89,337.40 L427.41,339.59 L427.93,341.84 L428.44,344.15 L428.96,346.52 L429.48,348.95 L430.00,351.46 L430.52,354.03 L431.04,356.67 L431.56,359.39 L432.07,362.20 L432.59,365.08 L433.11,368.05 L433.63,371.10 L434.15,374.24 L434.67,377.47 L435.19,380.79 L435.70,384.19 L436.22,387.67 L436.74,391.22 L437.26,394.83 L437.78,398.48 L438.30,402.15 L438.81,405.81 L439.33,409.42 L439.85,412.93 L440.37,416.29 L440.89,419.43 L441.41,422.27 L441.93,424.75 L442.44,426.77 L442.96,428.28 L443.48,429.20 L444.00,429.52 L444.52,429.20 L445.04,428.28 L445.56,426.77 L446.07,424.75 L446.59,422.27 L447.11,419.43 L447.63,416.29 L448.15,412.93 L448.67,409.42 L449.19,405.81 L449.70,402.15 L450.22,398.48 L450.74,394.83 L451.26,391.22 L451.78,387.67 L452.30,384.19 L452.81,380.79 L453.33,377.47 L453.85,374.24 L454.37,371.10 L454.89,368.05 L455.41,365.08 L455.93,362.20 L456.44,359.39 L456.96,356.67 L457.48,354.03 L458.00,351.46 L458.52,348.95 L459.04,346.52 L459.56,344.15 L460.07,341.84 L460.59,339.59 L461.11,337.40 L461.63,335.26 L462.15,333.17 L462.67,331.12 L463.19,329.13 L463.70,327.18 L464.22,325.27 L464.74,323.40 L465.25,321.57 L465.76,319.77 L466.27,318.01 L466.78,316.29 L467.29,314.59 L467.79,312.92 L468.29,311.29 L468.80,309.68 L469.30,308.10 L469.80,306.55 L470.30,305.02 L470.81,303.52 L471.31,302.04 L471.81,300.58 L472.32,299.14 L472.82,297.73 L473.33,296.34 L473.84,294.96 L474.35,293.61 L474.86,292.27 L475.37,290.96 L475.88,289.66 L476.39,288.37 L476.90,287.11 L477.41,285.86 L477.93,284.62 L478.44,283.40 L478.95,282.19 L479.46,281.00 L479.97,279.82 L480.49,278.65 L481.00,277.50 L481.51,276.36 L482.02,275.23 L482.54,274.11 L483.05,273.01 L483.56,271.91 L484.07,270.83 L484.59,269.76 L485.10,268.69 L485.61,267.64 L486.12,266.60 L486.64,265.56 L487.15,264.54 L487.66,263.52 L488.17,262.52 L488.68,261.52 L489.19,260.53 L489.70,259.55 L490.21,258.57 L490.72,257.61 L491.24,256.65 L491.75,255.70 L492.26,254.76 L492.77,253.83 L493.28,252.90 L493.79,251.98 L494.30,251.06 L494.81,250.16 L495.32,249.26 L495.83,248.36 L496.35,247.48 L496.86,246.60 L497.37,245.73 L497.88,244.86 L498.40,244.00 L498.91,243.14 L499.42,242.29 L499.94,241.45 L500.46,240.62 L500.97,239.78 L501.49,238.96 L502.01,238.14 L502.52,237.33 L503.04,236.52 L503.56,235.72 L504.09,234.93 L504.62,234.15 L505.17,233.38 L505.72,232.61 L506.27,231.86 L506.82,231.11 L507.38,230.37 L507.94,229.63 L508.49,228.90 L509.05,228.17 L509.60,227.44 L510.14,226.72 L510.68,225.99 L511.21,225.26 L511.75,224.54 L512.28,223.82 L512.81,223.11 L513.34,222.39 L513.86,221.68 L514.39,220.98 L514.92,220.28 L515.45,219.58 L515.97,218.89 L516.50,218.20 L517.02,217.51 L517.55,216.82 L518.08,216.14 L518.60,215.47 L519.13,214.80 L519.65,214.13 L520.18,213.46 L520.70,212.80 L521.23,212.14 L521.76,211.48 L522.28,210.83 L522.81,210.19 L523.34,209.54 L523.87,208.90 L524.40,208.27 L524.93,207.63 L525.46,207.00 L525.98,206.38 L526.51,205.75 L527.04,205.13 L527.57,204.52 L528.11,203.90 L528.64,203.29 L529.17,202.69 L529.70,202.08 L530.23,201.48 L530.76,200.88 L531.29,200.29 L531.82,199.70 L532.35,199.10 L532.88,198.52 L533.41,197.93 L533.94,197.35 L534.46,196.77 L534.99,196.19 L535.52,195.62 L536.05,195.05 L536.58,194.48 L537.10,193.91 L537.63,193.34 L538.16,192.78 L538.68,192.22 L539.21,191.66 L539.73,191.10 L540.26,190.54 L540.78,189.99 L541.30,189.44 L541.83,188.89 L542.35,188.34 L542.87,187.80 L543.39,187.26 L543.92,186.72 L544.44,186.18 L544.96,185.65 L545.49,185.11 L546.01,184.58 L546.53,184.05 L547.05,183.53 L547.58,183.00 L548.10,182.48 L548.62,181.96 L549.14,181.44 L549.66,180.93 L550.19,180.42 L550.71,179.90 L551.23,179.40 L551.75,178.89 L552.27,178.38 L552.79,177.88 L553.31,177.38 L553.84,176.88 L554.36,176.38 L554.88,175.89 L555.40,175.40 L555.92,174.90 L556.44,174.42 L556.96,173.93 L557.48,173.44 L558.00,172.96 L558.52,172.48 L559.04,172.00 L559.57,171.52 L560.09,171.05 L560.61,170.57 L561.13,170.10 L561.65,169.63 L562.17,169.16 L562.69,168.70 L563.21,168.23 L563.73,167.77 L564.25,167.31 L564.77,166.85 L565.29,166.39 L565.81,165.94 L566.33,165.48 L566.85,165.03 L567.36,164.58 L567.88,164.13 L568.40,163.69 L568.92,163.24 L569.44,162.80 L569.96,162.36 L570.48,161.92 L571.00,161.48 L571.52,161.04 L572.04,160.61 L572.56,160.17 L573.08,159.74 L573.59,159.31 L574.11,158.88 L574.63,158.46 L575.15,158.03 L575.67,157.61 L576.19,157.19 L576.71,156.77 L577.23,156.35 L577.74,155.94 L578.26,155.52 L578.78,155.11 L579.30,154.70 L579.82,154.29 L580.34,153.88 L580.86,153.47 L581.37,153.07 L581.89,152.66 L582.41,152.26 L582.93,151.86 L583.45,151.46 L583.97,151.06 L584.48,150.67 L585.00,150.27 L585.52,149.88 L586.04,149.49 L586.56,149.10 L587.07,148.71 L587.59,148.32 L588.11,147.94 L588.63,147.55 L589.14,147.17 L589.66,146.79 L590.18,146.41 L590.69,146.03 L591.21,145.65 L591.73,145.28 L592.24,144.90 L592.76,144.53 L593.28,144.16 L593.80,143.79 L594.31,143.42 L594.83,143.05 L595.35,142.69 L595.86,142.32 L596.38,141.96 L596.90,141.60 L597.41,141.24 L597.93,140.88 L598.45,140.52 L598.96,140.17 L599.48,139.81 L600.00,139.46 L600.51,139.11 L601.03,138.76 L601.54,138.41 L602.06,138.06 L602.58,137.72 L603.09,137.37 L603.61,137.03 L604.13,136.69 L604.64,136.35 L605.16,136.01 L605.67,135.67 L606.19,135.33 L606.71,135.00 L607.22,134.66 L607.74,134.33 L608.25,134.00 L608.77,133.67 L609.28,133.34 L609.80,133.01 L610.31,132.68 L610.82,132.34 L611.33,132.01 L611.84,131.68 L612.35,131.34 L612.86,131.01 L613.36,130.68 L613.87,130.35 L614.38,130.01 L614.88,129.68 L615.39,129.35 L615.89,129.02 L616.40,128.69 L616.90,128.36 L617.40,128.03 L617.91,127.71 L618.41,127.38 L618.92,127.06 L619.42,126.73 L619.93,126.41 L620.43,126.09 L620.94,125.77 L621.44,125.45 L621.95,125.14 L622.45,124.83 L622.96,124.52 L623.47,124.21 L623.98,123.90 L624.49,123.60 L625.00,123.30 L625.51,123.00 L626.02,122.70 L626.53,122.41 L627.05,122.12 L627.56,121.83 L628.08,121.55 L628.59,121.27 L629.11,121.00 L629.63,120.72 L630.15,120.45 L630.67,120.18 L631.19,119.91 L631.71,119.64 L632.22,119.37 L632.74,119.11 L633.26,118.84 L633.78,118.58 L634.30,118.32 L634.82,118.06 L635.34,117.80 L635.86,117.54 L636.38,117.28 L636.90,117.03 L637.42,116.77 L637.94,116.52 L638.46,116.27 L638.98,116.02 L639.49,115.77 L640.01,115.53 L640.53,115.28 L641.05,115.04 L641.57,114.79 L642.09,114.55 L642.61,114.31 L643.13,114.07 L643.65,113.84 L644.17,113.60 L644.69,113.36 L645.21,113.13 L645.73,112.90 L646.25,112.67 L646.77,112.44 L647.29,112.21 L647.81,111.98 L648.33,111.75 L648.85,111.53 L649.37,111.30 L649.89,111.08 L650.41,110.86 L650.93,110.64 L651.45,110.42 L651.97,110.20 L652.49,109.99 L653.01,109.77 L653.53,109.56 L654.05,109.34 L654.57,109.13 L655.09,108.92 L655.61,108.71 L656.13,108.50 L656.65,108.30 L657.17,108.09 L657.69,107.89 L658.21,107.68 L658.73,107.48 L659.25,107.28 L659.77,107.08 L660.29,106.88 L660.81,106.68 L661.33,106.49 L661.84,106.29 L662.36,106.10 L662.88,105.90 L663.40,105.71 L663.92,105.52 L664.44,105.33 L664.96,105.14 L665.48,104.95 L666.00,104.77 L666.52,104.58 L667.04,104.40 L667.56,104.21 L668.08,104.03 L668.59,103.85 L669.11,103.67 L669.63,103.49 L670.15,103.31 L670.67,103.13 L671.19,102.96 L671.71,102.78 L672.23,102.61 L672.74,102.43 L673.26,102.26 L673.78,102.09 L674.30,101.92 L674.82,101.75 L675.34,101.58 L675.85,101.42 L676.37,101.25 L676.89,101.09 L677.41,100.92 L677.93,100.76 L678.45,100.60 L678.96,100.44 L679.48,100.28 L680.00,100.12 L680.52,99.96 L681.04,99.80 L681.55,99.65 L682.07,99.49 L682.59,99.34 L683.11,99.19 L683.62,99.03 L684.14,98.88 L684.66,98.73 L685.18,98.59 L685.70,98.44 L686.21,98.29 L686.73,98.15 L687.25,98.00 L687.77,97.86 L688.29,97.72 L688.80,97.58 L689.32,97.44 L689.84,97.30 L690.36,97.16 L690.87,97.03 L691.39,96.89 L691.91,96.76 L692.43,96.63 L692.95,96.49 L693.46,96.36 L693.98,96.23 L694.50,96.10 L695.02,95.98 L695.53,95.85 L696.05,95.72 L696.57,95.60 L697.09,95.48 L697.60,95.35 L698.12,95.23 L698.64,95.11 L699.16,94.99 L699.68,94.87 L700.19,94.76 L700.71,94.64 L701.23,94.53 L701.75,94.41 L702.26,94.30 L702.78,94.19 L703.30,94.08 L703.82,93.97 L704.34,93.86 L704.85,93.75 L705.37,93.65 L705.89,93.54 L706.41,93.44 L706.92,93.34 L707.44,93.23 L707.96,93.13 L708.48,93.03 L709.00,92.93 L709.51,92.84 L710.03,92.74 L710.55,92.65 L711.07,92.55 L711.58,92.46 L712.10,92.37 L712.62,92.27 L713.14,92.19 L713.66,92.10 L714.17,92.01 L714.69,91.92 L715.21,91.84 L715.73,91.75 L716.25,91.67 L716.76,91.59 L717.28,91.50 L717.80,91.42 L718.32,91.35 L718.83,91.27 L719.35,91.19 L719.87,91.12 L720.39,91.04 L720.91,90.97 L721.42,90.89 L721.94,90.82 L722.46,90.75 L722.98,90.68 L723.50,90.62 L724.01,90.55 L724.53,90.48 L725.05,90.42 L725.57,90.35 L726.09,90.29 L726.61,90.23 L727.12,90.17 L727.64,90.11 L728.16,90.05 L728.68,90.00 L729.20,89.94 L729.71,89.88 L730.23,89.83 L730.75,89.78 L731.27,89.73 L731.79,89.68 L732.30,89.63 L732.82,89.58 L733.34,89.53 L733.86,89.48 L734.38,89.44 L734.90,89.39 L735.41,89.35 L735.93,89.31 L736.45,89.27 L736.97,89.23 L737.49,89.19 L738.01,89.15 L738.52,89.11 L739.04,89.08 L739.56,89.04 L740.08,89.01 L740.60,88.98 L741.11,88.95 L741.63,88.92 L742.15,88.89 L742.67,88.86 L743.19,88.83 L743.71,88.80 L744.22,88.78 L744.74,88.76 L745.26,88.73 L745.78,88.71 L746.30,88.69 L746.82,88.67 L747.34,88.65 L747.85,88.63 L748.37,88.62 L748.89,88.60 L749.41,88.59 L749.93,88.58 L750.45,88.56 L750.96,88.55 L751.48,88.54 L752.00,88.53 L752.52,88.53 L753.04,88.52 L753.56,88.51 L754.07,88.51 L754.59,88.50 L755.11,88.50" stroke="#ff00ff" stroke-width="2.5" fill="none" stroke-linejoin="round" stroke-linecap="butt"/>
<path d="M442.8,483.20 h2.4 M442.8,477.86 h2.4 M442.8,472.51 h2.4 M442.8,467.17 h2.4 M442.8,461.83 h2.4 M442.8,456.49 h2.4 M442.8,451.14 h2.4 M442.8,445.80 h2.4 M442.8,440.46 h2.4 M442.8,435.11 h2.4 M442.8,429.77 h2.4 M442.8,424.43 h2.4 M442.8,419.08 h2.4 M442.8,413.74 h2.4 M442.8,408.40 h2.4 M442.8,403.06 h2.4 M442.8,397.71 h2.4 M442.8,392.37 h2.4 M442.8,387.03 h2.4 M442.8,381.68 h2.4 M442.8,376.34 h2.4 M442.8,371.00 h2.4 M442.8,365.65 h2.4 M442.8,360.31 h2.4 M442.8,354.97 h2.4 M442.8,349.62 h2.4 M442.8,344.28 h2.4 M442.8,338.94 h2.4 M442.8,333.60 h2.4 M442.8,328.25 h2.4 M442.8,322.91 h2.4 M442.8,317.57 h2.4 M442.8,312.22 h2.4 M442.8,306.88 h2.4 M442.8,301.54 h2.4 M442.8,296.19 h2.4 M442.8,290.85 h2.4 M442.8,285.51 h2.4 M442.8,280.17 h2.4 M442.8,274.82 h2.4 M442.8,269.48 h2.4 M442.8,264.14 h2.4 M442.8,258.79 h2.4 M442.8,253.45 h2.4 M442.8,248.11 h2.4 M442.8,242.76 h2.4 M442.8,237.42 h2.4 M442.8,232.08 h2.4 M442.8,226.74 h2.4 M442.8,221.39 h2.4 M442.8,216.05 h2.4 M442.8,210.71 h2.4 M442.8,205.36 h2.4 M442.8,200.02 h2.4 M442.8,194.68 h2.4 M442.8,189.33 h2.4 M442.8,183.99 h2.4 M442.8,178.65 h2.4 M442.8,173.31 h2.4 M442.8,167.96 h2.4 M442.8,162.62 h2.4 M442.8,157.28 h2.4 M442.8,151.93 h2.4 M442.8,146.59 h2.4 M442.8,141.25 h2.4 M442.8,135.90 h2.4 M442.8,130.56 h2.4 M442.8,125.22 h2.4 M442.8,119.88 h2.4 M442.8,114.53 h2.4 M442.8,109.19 h2.4 M442.8,103.85 h2.4 M442.8,98.50 h2.4 M442.8,93.16 h2.4 M442.8,87.82 h2.4 M442.8,82.47 h2.4 M442.8,77.13 h2.4 M442.8,71.79 h2.4 M442.8,66.45 h2.4 M442.8,61.10 h2.4 M442.8,55.76 h2.4 M442.8,50.42 h2.4 M442.8,45.07 h2.4 M442.8,39.73 h2.4" stroke="#000" stroke-width="1" stroke-opacity="0.85" fill="none"/>
<rect x="132.8" y="33.2" width="622.30" height="466.20" fill="none" stroke="#000" stroke-width="2.4"/>
<path d="M132.85,32.00 V500.70 M131.60,499.50 H756.30" fill="none" stroke="#000" stroke-width="2.7"/>
</svg>
</body></html>
